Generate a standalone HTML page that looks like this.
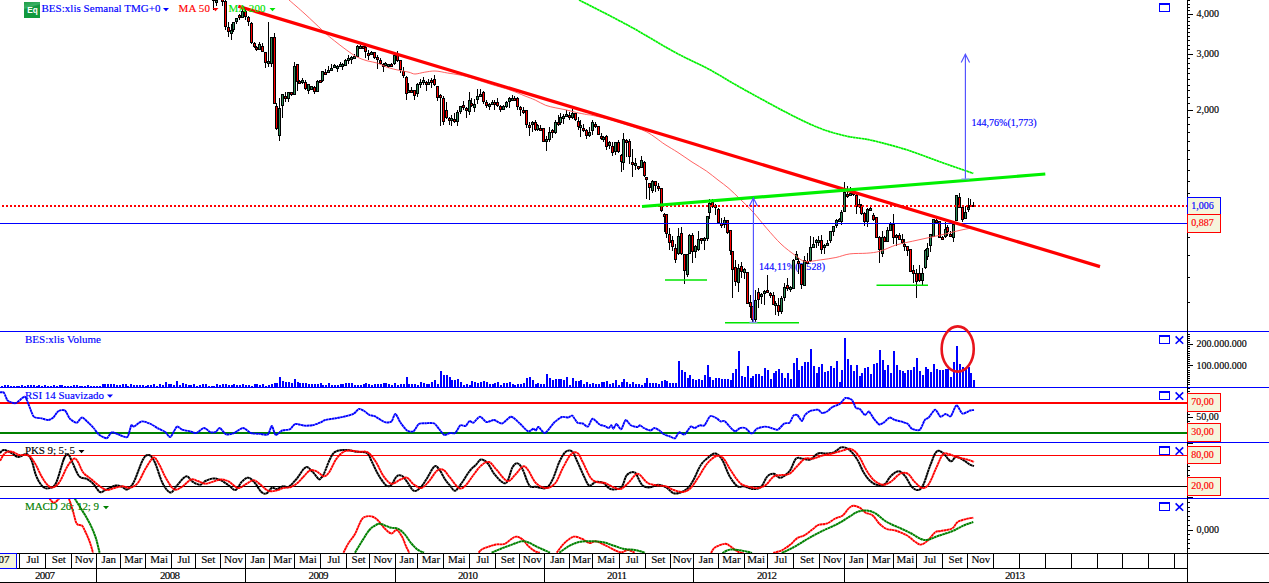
<!DOCTYPE html>
<html><head><meta charset="utf-8"><title>chart</title><style>html,body{margin:0;padding:0;background:#fff;overflow:hidden}svg{display:block}</style></head><body>
<svg width="1269" height="583" viewBox="0 0 1269 583" shape-rendering="auto">
<rect width="1269" height="583" fill="#fff"/>
<g id="main">
<text x="759" y="270" font-family="Liberation Serif, serif" font-size="10" fill="#0000ff" stroke="#0000ff" stroke-width="0.15" textLength="66">144,11%(0,528)</text>
<g shape-rendering="crispEdges">
<rect x="213" y="-2" width="1" height="12" fill="#000"/>
<rect x="212" y="-2" width="3" height="3" fill="#000"/>
<rect x="213" y="-1" width="1" height="1" fill="#2e8b57"/>
<rect x="216" y="-1" width="1" height="7" fill="#000"/>
<rect x="215" y="0" width="3" height="3" fill="#000"/>
<rect x="216" y="1" width="1" height="1" fill="#2e8b57"/>
<rect x="219" y="-7" width="1" height="6" fill="#000"/>
<rect x="218" y="-5" width="3" height="4" fill="#000"/>
<rect x="219" y="-4" width="1" height="2" fill="#ff0000"/>
<rect x="222" y="-2" width="1" height="8" fill="#000"/>
<rect x="221" y="-1" width="3" height="3" fill="#000"/>
<rect x="222" y="0" width="1" height="1" fill="#ff0000"/>
<rect x="225" y="0" width="1" height="30" fill="#000"/>
<rect x="224" y="1" width="3" height="26" fill="#000"/>
<rect x="225" y="2" width="1" height="24" fill="#ff0000"/>
<rect x="228" y="22" width="1" height="15" fill="#000"/>
<rect x="227" y="27" width="3" height="5" fill="#000"/>
<rect x="228" y="28" width="1" height="3" fill="#ff0000"/>
<rect x="231" y="24" width="1" height="16" fill="#000"/>
<rect x="230" y="30" width="3" height="4" fill="#000"/>
<rect x="231" y="31" width="1" height="2" fill="#2e8b57"/>
<rect x="233" y="22" width="1" height="10" fill="#000"/>
<rect x="232" y="22" width="3" height="8" fill="#000"/>
<rect x="233" y="23" width="1" height="6" fill="#2e8b57"/>
<rect x="236" y="18" width="1" height="6" fill="#000"/>
<rect x="235" y="18" width="3" height="4" fill="#000"/>
<rect x="236" y="19" width="1" height="2" fill="#2e8b57"/>
<rect x="239" y="14" width="1" height="6" fill="#000"/>
<rect x="238" y="15" width="3" height="3" fill="#000"/>
<rect x="239" y="16" width="1" height="1" fill="#ff0000"/>
<rect x="242" y="9" width="1" height="9" fill="#000"/>
<rect x="241" y="11" width="3" height="7" fill="#000"/>
<rect x="242" y="12" width="1" height="5" fill="#2e8b57"/>
<rect x="245" y="9" width="1" height="11" fill="#000"/>
<rect x="244" y="11" width="3" height="6" fill="#000"/>
<rect x="245" y="12" width="1" height="4" fill="#ff0000"/>
<rect x="248" y="16" width="1" height="10" fill="#000"/>
<rect x="247" y="17" width="3" height="5" fill="#000"/>
<rect x="248" y="18" width="1" height="3" fill="#ff0000"/>
<rect x="251" y="22" width="1" height="22" fill="#000"/>
<rect x="250" y="23" width="3" height="20" fill="#000"/>
<rect x="251" y="24" width="1" height="18" fill="#ff0000"/>
<rect x="254" y="42" width="1" height="6" fill="#000"/>
<rect x="253" y="43" width="3" height="4" fill="#000"/>
<rect x="254" y="44" width="1" height="2" fill="#ff0000"/>
<rect x="256" y="46" width="1" height="5" fill="#000"/>
<rect x="255" y="47" width="3" height="3" fill="#000"/>
<rect x="256" y="48" width="1" height="1" fill="#ff0000"/>
<rect x="259" y="42" width="1" height="8" fill="#000"/>
<rect x="258" y="44" width="3" height="6" fill="#000"/>
<rect x="259" y="45" width="1" height="4" fill="#2e8b57"/>
<rect x="262" y="43" width="1" height="9" fill="#000"/>
<rect x="261" y="46" width="3" height="6" fill="#000"/>
<rect x="262" y="47" width="1" height="4" fill="#ff0000"/>
<rect x="265" y="52" width="1" height="16" fill="#000"/>
<rect x="264" y="52" width="3" height="11" fill="#000"/>
<rect x="265" y="53" width="1" height="9" fill="#ff0000"/>
<rect x="268" y="22" width="1" height="45" fill="#000"/>
<rect x="267" y="61" width="3" height="3" fill="#000"/>
<rect x="268" y="62" width="1" height="1" fill="#2e8b57"/>
<rect x="271" y="37" width="1" height="30" fill="#000"/>
<rect x="270" y="37" width="3" height="27" fill="#000"/>
<rect x="271" y="38" width="1" height="25" fill="#2e8b57"/>
<rect x="274" y="33" width="1" height="71" fill="#000"/>
<rect x="273" y="37" width="3" height="67" fill="#000"/>
<rect x="274" y="38" width="1" height="65" fill="#ff0000"/>
<rect x="276" y="103" width="1" height="27" fill="#000"/>
<rect x="275" y="106" width="3" height="23" fill="#000"/>
<rect x="276" y="107" width="1" height="21" fill="#ff0000"/>
<rect x="279" y="98" width="1" height="43" fill="#000"/>
<rect x="278" y="108" width="3" height="28" fill="#000"/>
<rect x="279" y="109" width="1" height="26" fill="#2e8b57"/>
<rect x="282" y="94" width="1" height="24" fill="#000"/>
<rect x="281" y="94" width="3" height="12" fill="#000"/>
<rect x="282" y="95" width="1" height="10" fill="#2e8b57"/>
<rect x="285" y="92" width="1" height="10" fill="#000"/>
<rect x="284" y="96" width="3" height="3" fill="#000"/>
<rect x="285" y="97" width="1" height="1" fill="#ff0000"/>
<rect x="288" y="92" width="1" height="10" fill="#000"/>
<rect x="287" y="92" width="3" height="7" fill="#000"/>
<rect x="288" y="93" width="1" height="5" fill="#2e8b57"/>
<rect x="291" y="92" width="1" height="4" fill="#000"/>
<rect x="290" y="92" width="3" height="3" fill="#000"/>
<rect x="291" y="93" width="1" height="1" fill="#ff0000"/>
<rect x="294" y="62" width="1" height="33" fill="#000"/>
<rect x="293" y="66" width="3" height="29" fill="#000"/>
<rect x="294" y="67" width="1" height="27" fill="#2e8b57"/>
<rect x="297" y="64" width="1" height="27" fill="#000"/>
<rect x="296" y="64" width="3" height="18" fill="#000"/>
<rect x="297" y="65" width="1" height="16" fill="#ff0000"/>
<rect x="299" y="80" width="1" height="4" fill="#000"/>
<rect x="298" y="81" width="3" height="3" fill="#000"/>
<rect x="299" y="82" width="1" height="1" fill="#ff0000"/>
<rect x="302" y="78" width="1" height="6" fill="#000"/>
<rect x="301" y="80" width="3" height="3" fill="#000"/>
<rect x="302" y="81" width="1" height="1" fill="#2e8b57"/>
<rect x="305" y="80" width="1" height="10" fill="#000"/>
<rect x="304" y="82" width="3" height="7" fill="#000"/>
<rect x="305" y="83" width="1" height="5" fill="#ff0000"/>
<rect x="308" y="84" width="1" height="10" fill="#000"/>
<rect x="307" y="84" width="3" height="7" fill="#000"/>
<rect x="308" y="85" width="1" height="5" fill="#2e8b57"/>
<rect x="311" y="86" width="1" height="4" fill="#000"/>
<rect x="310" y="86" width="3" height="4" fill="#000"/>
<rect x="311" y="87" width="1" height="2" fill="#2e8b57"/>
<rect x="314" y="86" width="1" height="8" fill="#000"/>
<rect x="313" y="87" width="3" height="5" fill="#000"/>
<rect x="314" y="88" width="1" height="3" fill="#ff0000"/>
<rect x="317" y="80" width="1" height="12" fill="#000"/>
<rect x="316" y="81" width="3" height="11" fill="#000"/>
<rect x="317" y="82" width="1" height="9" fill="#2e8b57"/>
<rect x="320" y="80" width="1" height="3" fill="#000"/>
<rect x="319" y="80" width="3" height="3" fill="#000"/>
<rect x="320" y="81" width="1" height="1" fill="#ff0000"/>
<rect x="322" y="71" width="1" height="11" fill="#000"/>
<rect x="321" y="71" width="3" height="10" fill="#000"/>
<rect x="322" y="72" width="1" height="8" fill="#2e8b57"/>
<rect x="325" y="69" width="1" height="5" fill="#000"/>
<rect x="324" y="72" width="3" height="3" fill="#000"/>
<rect x="325" y="73" width="1" height="1" fill="#ff0000"/>
<rect x="328" y="66" width="1" height="7" fill="#000"/>
<rect x="327" y="70" width="3" height="3" fill="#000"/>
<rect x="328" y="71" width="1" height="1" fill="#2e8b57"/>
<rect x="331" y="64" width="1" height="7" fill="#000"/>
<rect x="330" y="68" width="3" height="3" fill="#000"/>
<rect x="331" y="69" width="1" height="1" fill="#2e8b57"/>
<rect x="334" y="64" width="1" height="4" fill="#000"/>
<rect x="333" y="65" width="3" height="3" fill="#000"/>
<rect x="334" y="66" width="1" height="1" fill="#2e8b57"/>
<rect x="337" y="65" width="1" height="7" fill="#000"/>
<rect x="336" y="66" width="3" height="3" fill="#000"/>
<rect x="337" y="67" width="1" height="1" fill="#2e8b57"/>
<rect x="340" y="62" width="1" height="5" fill="#000"/>
<rect x="339" y="64" width="3" height="3" fill="#000"/>
<rect x="340" y="65" width="1" height="1" fill="#2e8b57"/>
<rect x="342" y="63" width="1" height="7" fill="#000"/>
<rect x="341" y="64" width="3" height="3" fill="#000"/>
<rect x="342" y="65" width="1" height="1" fill="#2e8b57"/>
<rect x="345" y="59" width="1" height="7" fill="#000"/>
<rect x="344" y="60" width="3" height="6" fill="#000"/>
<rect x="345" y="61" width="1" height="4" fill="#2e8b57"/>
<rect x="348" y="55" width="1" height="9" fill="#000"/>
<rect x="347" y="58" width="3" height="3" fill="#000"/>
<rect x="348" y="59" width="1" height="1" fill="#2e8b57"/>
<rect x="351" y="56" width="1" height="8" fill="#000"/>
<rect x="350" y="57" width="3" height="3" fill="#000"/>
<rect x="351" y="58" width="1" height="1" fill="#2e8b57"/>
<rect x="354" y="54" width="1" height="5" fill="#000"/>
<rect x="353" y="56" width="3" height="3" fill="#000"/>
<rect x="354" y="57" width="1" height="1" fill="#2e8b57"/>
<rect x="357" y="45" width="1" height="12" fill="#000"/>
<rect x="356" y="46" width="3" height="11" fill="#000"/>
<rect x="357" y="47" width="1" height="9" fill="#2e8b57"/>
<rect x="360" y="45" width="1" height="3" fill="#000"/>
<rect x="359" y="46" width="3" height="3" fill="#000"/>
<rect x="360" y="47" width="1" height="1" fill="#2e8b57"/>
<rect x="363" y="46" width="1" height="2" fill="#000"/>
<rect x="362" y="46" width="3" height="3" fill="#000"/>
<rect x="363" y="47" width="1" height="1" fill="#ff0000"/>
<rect x="365" y="46" width="1" height="12" fill="#000"/>
<rect x="364" y="47" width="3" height="5" fill="#000"/>
<rect x="365" y="48" width="1" height="3" fill="#ff0000"/>
<rect x="368" y="50" width="1" height="10" fill="#000"/>
<rect x="367" y="53" width="3" height="3" fill="#000"/>
<rect x="368" y="54" width="1" height="1" fill="#ff0000"/>
<rect x="371" y="51" width="1" height="4" fill="#000"/>
<rect x="370" y="52" width="3" height="3" fill="#000"/>
<rect x="371" y="53" width="1" height="1" fill="#2e8b57"/>
<rect x="374" y="52" width="1" height="7" fill="#000"/>
<rect x="373" y="52" width="3" height="6" fill="#000"/>
<rect x="374" y="53" width="1" height="4" fill="#ff0000"/>
<rect x="377" y="55" width="1" height="14" fill="#000"/>
<rect x="376" y="57" width="3" height="3" fill="#000"/>
<rect x="377" y="58" width="1" height="1" fill="#ff0000"/>
<rect x="380" y="58" width="1" height="6" fill="#000"/>
<rect x="379" y="60" width="3" height="4" fill="#000"/>
<rect x="380" y="61" width="1" height="2" fill="#ff0000"/>
<rect x="383" y="63" width="1" height="9" fill="#000"/>
<rect x="382" y="64" width="3" height="3" fill="#000"/>
<rect x="383" y="65" width="1" height="1" fill="#ff0000"/>
<rect x="385" y="62" width="1" height="4" fill="#000"/>
<rect x="384" y="63" width="3" height="3" fill="#000"/>
<rect x="385" y="64" width="1" height="1" fill="#2e8b57"/>
<rect x="388" y="64" width="1" height="4" fill="#000"/>
<rect x="387" y="64" width="3" height="3" fill="#000"/>
<rect x="388" y="65" width="1" height="1" fill="#2e8b57"/>
<rect x="391" y="63" width="1" height="4" fill="#000"/>
<rect x="390" y="64" width="3" height="3" fill="#000"/>
<rect x="391" y="65" width="1" height="1" fill="#ff0000"/>
<rect x="394" y="54" width="1" height="11" fill="#000"/>
<rect x="393" y="55" width="3" height="9" fill="#000"/>
<rect x="394" y="56" width="1" height="7" fill="#2e8b57"/>
<rect x="397" y="51" width="1" height="11" fill="#000"/>
<rect x="396" y="55" width="3" height="6" fill="#000"/>
<rect x="397" y="56" width="1" height="4" fill="#ff0000"/>
<rect x="400" y="60" width="1" height="13" fill="#000"/>
<rect x="399" y="60" width="3" height="10" fill="#000"/>
<rect x="400" y="61" width="1" height="8" fill="#ff0000"/>
<rect x="403" y="67" width="1" height="11" fill="#000"/>
<rect x="402" y="71" width="3" height="5" fill="#000"/>
<rect x="403" y="72" width="1" height="3" fill="#ff0000"/>
<rect x="406" y="76" width="1" height="24" fill="#000"/>
<rect x="405" y="77" width="3" height="17" fill="#000"/>
<rect x="406" y="78" width="1" height="15" fill="#ff0000"/>
<rect x="408" y="83" width="1" height="10" fill="#000"/>
<rect x="407" y="90" width="3" height="3" fill="#000"/>
<rect x="408" y="91" width="1" height="1" fill="#2e8b57"/>
<rect x="411" y="87" width="1" height="5" fill="#000"/>
<rect x="410" y="90" width="3" height="3" fill="#000"/>
<rect x="411" y="91" width="1" height="1" fill="#ff0000"/>
<rect x="414" y="90" width="1" height="10" fill="#000"/>
<rect x="413" y="90" width="3" height="6" fill="#000"/>
<rect x="414" y="91" width="1" height="4" fill="#ff0000"/>
<rect x="417" y="83" width="1" height="14" fill="#000"/>
<rect x="416" y="84" width="3" height="10" fill="#000"/>
<rect x="417" y="85" width="1" height="8" fill="#2e8b57"/>
<rect x="420" y="79" width="1" height="9" fill="#000"/>
<rect x="419" y="82" width="3" height="3" fill="#000"/>
<rect x="420" y="83" width="1" height="1" fill="#2e8b57"/>
<rect x="423" y="77" width="1" height="8" fill="#000"/>
<rect x="422" y="80" width="3" height="3" fill="#000"/>
<rect x="423" y="81" width="1" height="1" fill="#2e8b57"/>
<rect x="426" y="81" width="1" height="10" fill="#000"/>
<rect x="425" y="82" width="3" height="3" fill="#000"/>
<rect x="426" y="83" width="1" height="1" fill="#ff0000"/>
<rect x="428" y="79" width="1" height="5" fill="#000"/>
<rect x="427" y="82" width="3" height="3" fill="#000"/>
<rect x="428" y="83" width="1" height="1" fill="#2e8b57"/>
<rect x="431" y="78" width="1" height="10" fill="#000"/>
<rect x="430" y="80" width="3" height="3" fill="#000"/>
<rect x="431" y="81" width="1" height="1" fill="#ff0000"/>
<rect x="434" y="75" width="1" height="11" fill="#000"/>
<rect x="433" y="79" width="3" height="6" fill="#000"/>
<rect x="434" y="80" width="1" height="4" fill="#ff0000"/>
<rect x="437" y="86" width="1" height="15" fill="#000"/>
<rect x="436" y="86" width="3" height="12" fill="#000"/>
<rect x="437" y="87" width="1" height="10" fill="#ff0000"/>
<rect x="440" y="94" width="1" height="32" fill="#000"/>
<rect x="439" y="95" width="3" height="3" fill="#000"/>
<rect x="440" y="96" width="1" height="1" fill="#ff0000"/>
<rect x="443" y="96" width="1" height="29" fill="#000"/>
<rect x="442" y="98" width="3" height="24" fill="#000"/>
<rect x="443" y="99" width="1" height="22" fill="#ff0000"/>
<rect x="446" y="102" width="1" height="17" fill="#000"/>
<rect x="445" y="110" width="3" height="8" fill="#000"/>
<rect x="446" y="111" width="1" height="6" fill="#ff0000"/>
<rect x="449" y="117" width="1" height="8" fill="#000"/>
<rect x="448" y="118" width="3" height="3" fill="#000"/>
<rect x="449" y="119" width="1" height="1" fill="#ff0000"/>
<rect x="451" y="115" width="1" height="11" fill="#000"/>
<rect x="450" y="118" width="3" height="3" fill="#000"/>
<rect x="451" y="119" width="1" height="1" fill="#2e8b57"/>
<rect x="454" y="113" width="1" height="10" fill="#000"/>
<rect x="453" y="119" width="3" height="3" fill="#000"/>
<rect x="454" y="120" width="1" height="1" fill="#ff0000"/>
<rect x="457" y="110" width="1" height="16" fill="#000"/>
<rect x="456" y="112" width="3" height="10" fill="#000"/>
<rect x="457" y="113" width="1" height="8" fill="#2e8b57"/>
<rect x="460" y="106" width="1" height="8" fill="#000"/>
<rect x="459" y="106" width="3" height="6" fill="#000"/>
<rect x="460" y="107" width="1" height="4" fill="#2e8b57"/>
<rect x="463" y="101" width="1" height="9" fill="#000"/>
<rect x="462" y="105" width="3" height="3" fill="#000"/>
<rect x="463" y="106" width="1" height="1" fill="#ff0000"/>
<rect x="466" y="107" width="1" height="11" fill="#000"/>
<rect x="465" y="108" width="3" height="3" fill="#000"/>
<rect x="466" y="109" width="1" height="1" fill="#ff0000"/>
<rect x="469" y="92" width="1" height="23" fill="#000"/>
<rect x="468" y="100" width="3" height="12" fill="#000"/>
<rect x="469" y="101" width="1" height="10" fill="#2e8b57"/>
<rect x="471" y="98" width="1" height="9" fill="#000"/>
<rect x="470" y="103" width="3" height="3" fill="#000"/>
<rect x="471" y="104" width="1" height="1" fill="#ff0000"/>
<rect x="474" y="99" width="1" height="13" fill="#000"/>
<rect x="473" y="104" width="3" height="4" fill="#000"/>
<rect x="474" y="105" width="1" height="2" fill="#2e8b57"/>
<rect x="477" y="89" width="1" height="15" fill="#000"/>
<rect x="476" y="96" width="3" height="4" fill="#000"/>
<rect x="477" y="97" width="1" height="2" fill="#2e8b57"/>
<rect x="480" y="89" width="1" height="7" fill="#000"/>
<rect x="479" y="94" width="3" height="3" fill="#000"/>
<rect x="480" y="95" width="1" height="1" fill="#2e8b57"/>
<rect x="483" y="91" width="1" height="13" fill="#000"/>
<rect x="482" y="92" width="3" height="10" fill="#000"/>
<rect x="483" y="93" width="1" height="8" fill="#ff0000"/>
<rect x="486" y="100" width="1" height="8" fill="#000"/>
<rect x="485" y="102" width="3" height="4" fill="#000"/>
<rect x="486" y="103" width="1" height="2" fill="#ff0000"/>
<rect x="489" y="103" width="1" height="7" fill="#000"/>
<rect x="488" y="104" width="3" height="3" fill="#000"/>
<rect x="489" y="105" width="1" height="1" fill="#2e8b57"/>
<rect x="492" y="100" width="1" height="4" fill="#000"/>
<rect x="491" y="102" width="3" height="3" fill="#000"/>
<rect x="492" y="103" width="1" height="1" fill="#2e8b57"/>
<rect x="494" y="100" width="1" height="10" fill="#000"/>
<rect x="493" y="102" width="3" height="3" fill="#000"/>
<rect x="494" y="103" width="1" height="1" fill="#ff0000"/>
<rect x="497" y="98" width="1" height="9" fill="#000"/>
<rect x="496" y="102" width="3" height="4" fill="#000"/>
<rect x="497" y="103" width="1" height="2" fill="#ff0000"/>
<rect x="500" y="105" width="1" height="7" fill="#000"/>
<rect x="499" y="106" width="3" height="4" fill="#000"/>
<rect x="500" y="107" width="1" height="2" fill="#ff0000"/>
<rect x="503" y="105" width="1" height="5" fill="#000"/>
<rect x="502" y="106" width="3" height="4" fill="#000"/>
<rect x="503" y="107" width="1" height="2" fill="#2e8b57"/>
<rect x="506" y="101" width="1" height="7" fill="#000"/>
<rect x="505" y="102" width="3" height="5" fill="#000"/>
<rect x="506" y="103" width="1" height="3" fill="#2e8b57"/>
<rect x="509" y="97" width="1" height="11" fill="#000"/>
<rect x="508" y="98" width="3" height="4" fill="#000"/>
<rect x="509" y="99" width="1" height="2" fill="#2e8b57"/>
<rect x="512" y="95" width="1" height="6" fill="#000"/>
<rect x="511" y="98" width="3" height="3" fill="#000"/>
<rect x="512" y="99" width="1" height="1" fill="#2e8b57"/>
<rect x="514" y="96" width="1" height="4" fill="#000"/>
<rect x="513" y="98" width="3" height="3" fill="#000"/>
<rect x="514" y="99" width="1" height="1" fill="#ff0000"/>
<rect x="517" y="97" width="1" height="13" fill="#000"/>
<rect x="516" y="98" width="3" height="9" fill="#000"/>
<rect x="517" y="99" width="1" height="7" fill="#ff0000"/>
<rect x="520" y="106" width="1" height="10" fill="#000"/>
<rect x="519" y="107" width="3" height="3" fill="#000"/>
<rect x="520" y="108" width="1" height="1" fill="#ff0000"/>
<rect x="523" y="107" width="1" height="7" fill="#000"/>
<rect x="522" y="110" width="3" height="3" fill="#000"/>
<rect x="523" y="111" width="1" height="1" fill="#ff0000"/>
<rect x="526" y="110" width="1" height="18" fill="#000"/>
<rect x="525" y="110" width="3" height="15" fill="#000"/>
<rect x="526" y="111" width="1" height="13" fill="#ff0000"/>
<rect x="529" y="122" width="1" height="14" fill="#000"/>
<rect x="528" y="125" width="3" height="3" fill="#000"/>
<rect x="529" y="126" width="1" height="1" fill="#ff0000"/>
<rect x="532" y="121" width="1" height="11" fill="#000"/>
<rect x="531" y="122" width="3" height="3" fill="#000"/>
<rect x="532" y="123" width="1" height="1" fill="#2e8b57"/>
<rect x="535" y="120" width="1" height="11" fill="#000"/>
<rect x="534" y="122" width="3" height="8" fill="#000"/>
<rect x="535" y="123" width="1" height="6" fill="#ff0000"/>
<rect x="537" y="124" width="1" height="7" fill="#000"/>
<rect x="536" y="125" width="3" height="5" fill="#000"/>
<rect x="537" y="126" width="1" height="3" fill="#2e8b57"/>
<rect x="540" y="125" width="1" height="6" fill="#000"/>
<rect x="539" y="128" width="3" height="3" fill="#000"/>
<rect x="540" y="129" width="1" height="1" fill="#ff0000"/>
<rect x="543" y="128" width="1" height="14" fill="#000"/>
<rect x="542" y="128" width="3" height="14" fill="#000"/>
<rect x="543" y="129" width="1" height="12" fill="#ff0000"/>
<rect x="546" y="136" width="1" height="15" fill="#000"/>
<rect x="545" y="139" width="3" height="3" fill="#000"/>
<rect x="546" y="140" width="1" height="1" fill="#2e8b57"/>
<rect x="549" y="127" width="1" height="15" fill="#000"/>
<rect x="548" y="132" width="3" height="8" fill="#000"/>
<rect x="549" y="133" width="1" height="6" fill="#2e8b57"/>
<rect x="552" y="129" width="1" height="9" fill="#000"/>
<rect x="551" y="130" width="3" height="3" fill="#000"/>
<rect x="552" y="131" width="1" height="1" fill="#ff0000"/>
<rect x="555" y="120" width="1" height="14" fill="#000"/>
<rect x="554" y="122" width="3" height="11" fill="#000"/>
<rect x="555" y="123" width="1" height="9" fill="#2e8b57"/>
<rect x="558" y="115" width="1" height="11" fill="#000"/>
<rect x="557" y="122" width="3" height="3" fill="#000"/>
<rect x="558" y="123" width="1" height="1" fill="#ff0000"/>
<rect x="560" y="113" width="1" height="12" fill="#000"/>
<rect x="559" y="117" width="3" height="6" fill="#000"/>
<rect x="560" y="118" width="1" height="4" fill="#2e8b57"/>
<rect x="563" y="114" width="1" height="10" fill="#000"/>
<rect x="562" y="116" width="3" height="3" fill="#000"/>
<rect x="563" y="117" width="1" height="1" fill="#2e8b57"/>
<rect x="566" y="110" width="1" height="6" fill="#000"/>
<rect x="565" y="114" width="3" height="3" fill="#000"/>
<rect x="566" y="115" width="1" height="1" fill="#2e8b57"/>
<rect x="569" y="112" width="1" height="8" fill="#000"/>
<rect x="568" y="115" width="3" height="3" fill="#000"/>
<rect x="569" y="116" width="1" height="1" fill="#ff0000"/>
<rect x="572" y="109" width="1" height="10" fill="#000"/>
<rect x="571" y="113" width="3" height="5" fill="#000"/>
<rect x="572" y="114" width="1" height="3" fill="#2e8b57"/>
<rect x="575" y="113" width="1" height="8" fill="#000"/>
<rect x="574" y="113" width="3" height="7" fill="#000"/>
<rect x="575" y="114" width="1" height="5" fill="#ff0000"/>
<rect x="578" y="117" width="1" height="13" fill="#000"/>
<rect x="577" y="121" width="3" height="6" fill="#000"/>
<rect x="578" y="122" width="1" height="4" fill="#ff0000"/>
<rect x="580" y="120" width="1" height="17" fill="#000"/>
<rect x="579" y="125" width="3" height="3" fill="#000"/>
<rect x="580" y="126" width="1" height="1" fill="#2e8b57"/>
<rect x="583" y="124" width="1" height="8" fill="#000"/>
<rect x="582" y="128" width="3" height="3" fill="#000"/>
<rect x="583" y="129" width="1" height="1" fill="#ff0000"/>
<rect x="586" y="129" width="1" height="10" fill="#000"/>
<rect x="585" y="130" width="3" height="6" fill="#000"/>
<rect x="586" y="131" width="1" height="4" fill="#ff0000"/>
<rect x="589" y="127" width="1" height="10" fill="#000"/>
<rect x="588" y="132" width="3" height="4" fill="#000"/>
<rect x="589" y="133" width="1" height="2" fill="#2e8b57"/>
<rect x="592" y="120" width="1" height="15" fill="#000"/>
<rect x="591" y="122" width="3" height="9" fill="#000"/>
<rect x="592" y="123" width="1" height="7" fill="#2e8b57"/>
<rect x="595" y="122" width="1" height="6" fill="#000"/>
<rect x="594" y="124" width="3" height="3" fill="#000"/>
<rect x="595" y="125" width="1" height="1" fill="#ff0000"/>
<rect x="598" y="126" width="1" height="9" fill="#000"/>
<rect x="597" y="126" width="3" height="9" fill="#000"/>
<rect x="598" y="127" width="1" height="7" fill="#ff0000"/>
<rect x="601" y="133" width="1" height="7" fill="#000"/>
<rect x="600" y="136" width="3" height="3" fill="#000"/>
<rect x="601" y="137" width="1" height="1" fill="#ff0000"/>
<rect x="603" y="136" width="1" height="6" fill="#000"/>
<rect x="602" y="137" width="3" height="3" fill="#000"/>
<rect x="603" y="138" width="1" height="1" fill="#2e8b57"/>
<rect x="606" y="135" width="1" height="15" fill="#000"/>
<rect x="605" y="136" width="3" height="11" fill="#000"/>
<rect x="606" y="137" width="1" height="9" fill="#ff0000"/>
<rect x="609" y="141" width="1" height="8" fill="#000"/>
<rect x="608" y="142" width="3" height="4" fill="#000"/>
<rect x="609" y="143" width="1" height="2" fill="#2e8b57"/>
<rect x="612" y="142" width="1" height="14" fill="#000"/>
<rect x="611" y="146" width="3" height="7" fill="#000"/>
<rect x="612" y="147" width="1" height="5" fill="#ff0000"/>
<rect x="615" y="142" width="1" height="13" fill="#000"/>
<rect x="614" y="142" width="3" height="10" fill="#000"/>
<rect x="615" y="143" width="1" height="8" fill="#2e8b57"/>
<rect x="618" y="140" width="1" height="13" fill="#000"/>
<rect x="617" y="142" width="3" height="10" fill="#000"/>
<rect x="618" y="143" width="1" height="8" fill="#ff0000"/>
<rect x="621" y="154" width="1" height="18" fill="#000"/>
<rect x="620" y="155" width="3" height="7" fill="#000"/>
<rect x="621" y="156" width="1" height="5" fill="#ff0000"/>
<rect x="623" y="133" width="1" height="37" fill="#000"/>
<rect x="622" y="139" width="3" height="24" fill="#000"/>
<rect x="623" y="140" width="1" height="22" fill="#2e8b57"/>
<rect x="626" y="139" width="1" height="18" fill="#000"/>
<rect x="625" y="140" width="3" height="3" fill="#000"/>
<rect x="626" y="141" width="1" height="1" fill="#ff0000"/>
<rect x="629" y="139" width="1" height="25" fill="#000"/>
<rect x="628" y="141" width="3" height="16" fill="#000"/>
<rect x="629" y="142" width="1" height="14" fill="#ff0000"/>
<rect x="632" y="149" width="1" height="28" fill="#000"/>
<rect x="631" y="162" width="3" height="3" fill="#000"/>
<rect x="632" y="163" width="1" height="1" fill="#ff0000"/>
<rect x="635" y="158" width="1" height="12" fill="#000"/>
<rect x="634" y="163" width="3" height="3" fill="#000"/>
<rect x="635" y="164" width="1" height="1" fill="#2e8b57"/>
<rect x="638" y="166" width="1" height="4" fill="#000"/>
<rect x="637" y="166" width="3" height="3" fill="#000"/>
<rect x="638" y="167" width="1" height="1" fill="#ff0000"/>
<rect x="641" y="156" width="1" height="12" fill="#000"/>
<rect x="640" y="160" width="3" height="8" fill="#000"/>
<rect x="641" y="161" width="1" height="6" fill="#2e8b57"/>
<rect x="644" y="161" width="1" height="16" fill="#000"/>
<rect x="643" y="162" width="3" height="14" fill="#000"/>
<rect x="644" y="163" width="1" height="12" fill="#ff0000"/>
<rect x="646" y="177" width="1" height="22" fill="#000"/>
<rect x="645" y="177" width="3" height="3" fill="#000"/>
<rect x="646" y="178" width="1" height="1" fill="#ff0000"/>
<rect x="649" y="183" width="1" height="17" fill="#000"/>
<rect x="648" y="183" width="3" height="5" fill="#000"/>
<rect x="649" y="184" width="1" height="3" fill="#ff0000"/>
<rect x="652" y="180" width="1" height="13" fill="#000"/>
<rect x="651" y="181" width="3" height="10" fill="#000"/>
<rect x="652" y="182" width="1" height="8" fill="#2e8b57"/>
<rect x="655" y="181" width="1" height="11" fill="#000"/>
<rect x="654" y="181" width="3" height="5" fill="#000"/>
<rect x="655" y="182" width="1" height="3" fill="#ff0000"/>
<rect x="658" y="183" width="1" height="8" fill="#000"/>
<rect x="657" y="186" width="3" height="3" fill="#000"/>
<rect x="658" y="187" width="1" height="1" fill="#ff0000"/>
<rect x="661" y="188" width="1" height="24" fill="#000"/>
<rect x="660" y="188" width="3" height="23" fill="#000"/>
<rect x="661" y="189" width="1" height="21" fill="#ff0000"/>
<rect x="664" y="213" width="1" height="19" fill="#000"/>
<rect x="663" y="214" width="3" height="3" fill="#000"/>
<rect x="664" y="215" width="1" height="1" fill="#ff0000"/>
<rect x="666" y="214" width="1" height="24" fill="#000"/>
<rect x="665" y="214" width="3" height="20" fill="#000"/>
<rect x="666" y="215" width="1" height="18" fill="#ff0000"/>
<rect x="669" y="228" width="1" height="22" fill="#000"/>
<rect x="668" y="234" width="3" height="9" fill="#000"/>
<rect x="669" y="235" width="1" height="7" fill="#ff0000"/>
<rect x="672" y="236" width="1" height="15" fill="#000"/>
<rect x="671" y="240" width="3" height="7" fill="#000"/>
<rect x="672" y="241" width="1" height="5" fill="#ff0000"/>
<rect x="675" y="244" width="1" height="19" fill="#000"/>
<rect x="674" y="248" width="3" height="12" fill="#000"/>
<rect x="675" y="249" width="1" height="10" fill="#ff0000"/>
<rect x="678" y="228" width="1" height="27" fill="#000"/>
<rect x="677" y="236" width="3" height="18" fill="#000"/>
<rect x="678" y="237" width="1" height="16" fill="#2e8b57"/>
<rect x="681" y="227" width="1" height="28" fill="#000"/>
<rect x="680" y="233" width="3" height="21" fill="#000"/>
<rect x="681" y="234" width="1" height="19" fill="#ff0000"/>
<rect x="684" y="254" width="1" height="30" fill="#000"/>
<rect x="683" y="254" width="3" height="17" fill="#000"/>
<rect x="684" y="255" width="1" height="15" fill="#ff0000"/>
<rect x="687" y="254" width="1" height="23" fill="#000"/>
<rect x="686" y="254" width="3" height="21" fill="#000"/>
<rect x="687" y="255" width="1" height="19" fill="#2e8b57"/>
<rect x="689" y="234" width="1" height="20" fill="#000"/>
<rect x="688" y="235" width="3" height="19" fill="#000"/>
<rect x="689" y="236" width="1" height="17" fill="#2e8b57"/>
<rect x="692" y="233" width="1" height="30" fill="#000"/>
<rect x="691" y="235" width="3" height="17" fill="#000"/>
<rect x="692" y="236" width="1" height="15" fill="#ff0000"/>
<rect x="695" y="245" width="1" height="13" fill="#000"/>
<rect x="694" y="246" width="3" height="6" fill="#000"/>
<rect x="695" y="247" width="1" height="4" fill="#2e8b57"/>
<rect x="698" y="231" width="1" height="20" fill="#000"/>
<rect x="697" y="239" width="3" height="11" fill="#000"/>
<rect x="698" y="240" width="1" height="9" fill="#2e8b57"/>
<rect x="701" y="238" width="1" height="6" fill="#000"/>
<rect x="700" y="238" width="3" height="3" fill="#000"/>
<rect x="701" y="239" width="1" height="1" fill="#ff0000"/>
<rect x="704" y="237" width="1" height="13" fill="#000"/>
<rect x="703" y="238" width="3" height="3" fill="#000"/>
<rect x="704" y="239" width="1" height="1" fill="#2e8b57"/>
<rect x="707" y="216" width="1" height="25" fill="#000"/>
<rect x="706" y="216" width="3" height="23" fill="#000"/>
<rect x="707" y="217" width="1" height="21" fill="#2e8b57"/>
<rect x="709" y="199" width="1" height="20" fill="#000"/>
<rect x="708" y="203" width="3" height="10" fill="#000"/>
<rect x="709" y="204" width="1" height="8" fill="#2e8b57"/>
<rect x="712" y="199" width="1" height="9" fill="#000"/>
<rect x="711" y="202" width="3" height="5" fill="#000"/>
<rect x="712" y="203" width="1" height="3" fill="#ff0000"/>
<rect x="715" y="204" width="1" height="11" fill="#000"/>
<rect x="714" y="205" width="3" height="3" fill="#000"/>
<rect x="715" y="206" width="1" height="1" fill="#ff0000"/>
<rect x="718" y="208" width="1" height="16" fill="#000"/>
<rect x="717" y="209" width="3" height="14" fill="#000"/>
<rect x="718" y="210" width="1" height="12" fill="#ff0000"/>
<rect x="721" y="218" width="1" height="10" fill="#000"/>
<rect x="720" y="223" width="3" height="3" fill="#000"/>
<rect x="721" y="224" width="1" height="1" fill="#ff0000"/>
<rect x="724" y="217" width="1" height="11" fill="#000"/>
<rect x="723" y="220" width="3" height="5" fill="#000"/>
<rect x="724" y="221" width="1" height="3" fill="#2e8b57"/>
<rect x="727" y="220" width="1" height="14" fill="#000"/>
<rect x="726" y="220" width="3" height="13" fill="#000"/>
<rect x="727" y="221" width="1" height="11" fill="#ff0000"/>
<rect x="730" y="230" width="1" height="25" fill="#000"/>
<rect x="729" y="230" width="3" height="21" fill="#000"/>
<rect x="730" y="231" width="1" height="19" fill="#ff0000"/>
<rect x="732" y="251" width="1" height="47" fill="#000"/>
<rect x="731" y="251" width="3" height="19" fill="#000"/>
<rect x="732" y="252" width="1" height="17" fill="#ff0000"/>
<rect x="735" y="260" width="1" height="26" fill="#000"/>
<rect x="734" y="267" width="3" height="15" fill="#000"/>
<rect x="735" y="268" width="1" height="13" fill="#ff0000"/>
<rect x="738" y="264" width="1" height="28" fill="#000"/>
<rect x="737" y="268" width="3" height="15" fill="#000"/>
<rect x="738" y="269" width="1" height="13" fill="#2e8b57"/>
<rect x="741" y="262" width="1" height="16" fill="#000"/>
<rect x="740" y="266" width="3" height="6" fill="#000"/>
<rect x="741" y="267" width="1" height="4" fill="#ff0000"/>
<rect x="744" y="268" width="1" height="11" fill="#000"/>
<rect x="743" y="269" width="3" height="4" fill="#000"/>
<rect x="744" y="270" width="1" height="2" fill="#2e8b57"/>
<rect x="747" y="272" width="1" height="32" fill="#000"/>
<rect x="746" y="272" width="3" height="32" fill="#000"/>
<rect x="747" y="273" width="1" height="30" fill="#ff0000"/>
<rect x="750" y="295" width="1" height="23" fill="#000"/>
<rect x="749" y="302" width="3" height="5" fill="#000"/>
<rect x="750" y="303" width="1" height="3" fill="#ff0000"/>
<rect x="752" y="306" width="1" height="16" fill="#000"/>
<rect x="751" y="306" width="3" height="14" fill="#000"/>
<rect x="752" y="307" width="1" height="12" fill="#ff0000"/>
<rect x="755" y="290" width="1" height="32" fill="#000"/>
<rect x="754" y="300" width="3" height="20" fill="#000"/>
<rect x="755" y="301" width="1" height="18" fill="#2e8b57"/>
<rect x="758" y="288" width="1" height="20" fill="#000"/>
<rect x="757" y="292" width="3" height="8" fill="#000"/>
<rect x="758" y="293" width="1" height="6" fill="#ff0000"/>
<rect x="761" y="293" width="1" height="11" fill="#000"/>
<rect x="760" y="294" width="3" height="3" fill="#000"/>
<rect x="761" y="295" width="1" height="1" fill="#2e8b57"/>
<rect x="764" y="290" width="1" height="15" fill="#000"/>
<rect x="763" y="291" width="3" height="3" fill="#000"/>
<rect x="764" y="292" width="1" height="1" fill="#2e8b57"/>
<rect x="767" y="275" width="1" height="18" fill="#000"/>
<rect x="766" y="290" width="3" height="3" fill="#000"/>
<rect x="767" y="291" width="1" height="1" fill="#ff0000"/>
<rect x="770" y="292" width="1" height="6" fill="#000"/>
<rect x="769" y="293" width="3" height="3" fill="#000"/>
<rect x="770" y="294" width="1" height="1" fill="#ff0000"/>
<rect x="773" y="292" width="1" height="13" fill="#000"/>
<rect x="772" y="295" width="3" height="10" fill="#000"/>
<rect x="773" y="296" width="1" height="8" fill="#ff0000"/>
<rect x="775" y="301" width="1" height="14" fill="#000"/>
<rect x="774" y="303" width="3" height="3" fill="#000"/>
<rect x="775" y="304" width="1" height="1" fill="#2e8b57"/>
<rect x="778" y="298" width="1" height="18" fill="#000"/>
<rect x="777" y="305" width="3" height="7" fill="#000"/>
<rect x="778" y="306" width="1" height="5" fill="#ff0000"/>
<rect x="781" y="296" width="1" height="18" fill="#000"/>
<rect x="780" y="298" width="3" height="14" fill="#000"/>
<rect x="781" y="299" width="1" height="12" fill="#2e8b57"/>
<rect x="784" y="283" width="1" height="18" fill="#000"/>
<rect x="783" y="287" width="3" height="11" fill="#000"/>
<rect x="784" y="288" width="1" height="9" fill="#2e8b57"/>
<rect x="787" y="278" width="1" height="13" fill="#000"/>
<rect x="786" y="285" width="3" height="4" fill="#000"/>
<rect x="787" y="286" width="1" height="2" fill="#ff0000"/>
<rect x="790" y="286" width="1" height="6" fill="#000"/>
<rect x="789" y="287" width="3" height="3" fill="#000"/>
<rect x="790" y="288" width="1" height="1" fill="#2e8b57"/>
<rect x="793" y="259" width="1" height="30" fill="#000"/>
<rect x="792" y="260" width="3" height="29" fill="#000"/>
<rect x="793" y="261" width="1" height="27" fill="#2e8b57"/>
<rect x="796" y="251" width="1" height="9" fill="#000"/>
<rect x="795" y="254" width="3" height="6" fill="#000"/>
<rect x="796" y="255" width="1" height="4" fill="#2e8b57"/>
<rect x="798" y="258" width="1" height="16" fill="#000"/>
<rect x="797" y="261" width="3" height="3" fill="#000"/>
<rect x="798" y="262" width="1" height="1" fill="#ff0000"/>
<rect x="801" y="264" width="1" height="25" fill="#000"/>
<rect x="800" y="264" width="3" height="21" fill="#000"/>
<rect x="801" y="265" width="1" height="19" fill="#ff0000"/>
<rect x="804" y="256" width="1" height="30" fill="#000"/>
<rect x="803" y="260" width="3" height="26" fill="#000"/>
<rect x="804" y="261" width="1" height="24" fill="#2e8b57"/>
<rect x="807" y="253" width="1" height="11" fill="#000"/>
<rect x="806" y="261" width="3" height="3" fill="#000"/>
<rect x="807" y="262" width="1" height="1" fill="#ff0000"/>
<rect x="810" y="236" width="1" height="26" fill="#000"/>
<rect x="809" y="247" width="3" height="14" fill="#000"/>
<rect x="810" y="248" width="1" height="12" fill="#2e8b57"/>
<rect x="813" y="237" width="1" height="11" fill="#000"/>
<rect x="812" y="244" width="3" height="4" fill="#000"/>
<rect x="813" y="245" width="1" height="2" fill="#2e8b57"/>
<rect x="816" y="239" width="1" height="9" fill="#000"/>
<rect x="815" y="240" width="3" height="3" fill="#000"/>
<rect x="816" y="241" width="1" height="1" fill="#2e8b57"/>
<rect x="818" y="236" width="1" height="10" fill="#000"/>
<rect x="817" y="240" width="3" height="3" fill="#000"/>
<rect x="818" y="241" width="1" height="1" fill="#2e8b57"/>
<rect x="821" y="235" width="1" height="19" fill="#000"/>
<rect x="820" y="240" width="3" height="10" fill="#000"/>
<rect x="821" y="241" width="1" height="8" fill="#ff0000"/>
<rect x="824" y="244" width="1" height="10" fill="#000"/>
<rect x="823" y="245" width="3" height="3" fill="#000"/>
<rect x="824" y="246" width="1" height="1" fill="#2e8b57"/>
<rect x="827" y="240" width="1" height="6" fill="#000"/>
<rect x="826" y="243" width="3" height="3" fill="#000"/>
<rect x="827" y="244" width="1" height="1" fill="#2e8b57"/>
<rect x="830" y="231" width="1" height="12" fill="#000"/>
<rect x="829" y="231" width="3" height="10" fill="#000"/>
<rect x="830" y="232" width="1" height="8" fill="#2e8b57"/>
<rect x="833" y="226" width="1" height="10" fill="#000"/>
<rect x="832" y="226" width="3" height="6" fill="#000"/>
<rect x="833" y="227" width="1" height="4" fill="#2e8b57"/>
<rect x="836" y="219" width="1" height="9" fill="#000"/>
<rect x="835" y="220" width="3" height="6" fill="#000"/>
<rect x="836" y="221" width="1" height="4" fill="#2e8b57"/>
<rect x="839" y="218" width="1" height="4" fill="#000"/>
<rect x="838" y="219" width="3" height="3" fill="#000"/>
<rect x="839" y="220" width="1" height="1" fill="#2e8b57"/>
<rect x="841" y="210" width="1" height="15" fill="#000"/>
<rect x="840" y="212" width="3" height="10" fill="#000"/>
<rect x="841" y="213" width="1" height="8" fill="#2e8b57"/>
<rect x="844" y="182" width="1" height="30" fill="#000"/>
<rect x="843" y="192" width="3" height="20" fill="#000"/>
<rect x="844" y="193" width="1" height="18" fill="#2e8b57"/>
<rect x="847" y="186" width="1" height="12" fill="#000"/>
<rect x="846" y="194" width="3" height="3" fill="#000"/>
<rect x="847" y="195" width="1" height="1" fill="#ff0000"/>
<rect x="850" y="187" width="1" height="9" fill="#000"/>
<rect x="849" y="193" width="3" height="3" fill="#000"/>
<rect x="850" y="194" width="1" height="1" fill="#2e8b57"/>
<rect x="853" y="191" width="1" height="5" fill="#000"/>
<rect x="852" y="192" width="3" height="3" fill="#000"/>
<rect x="853" y="193" width="1" height="1" fill="#ff0000"/>
<rect x="856" y="194" width="1" height="20" fill="#000"/>
<rect x="855" y="195" width="3" height="12" fill="#000"/>
<rect x="856" y="196" width="1" height="10" fill="#ff0000"/>
<rect x="859" y="199" width="1" height="9" fill="#000"/>
<rect x="858" y="204" width="3" height="3" fill="#000"/>
<rect x="859" y="205" width="1" height="1" fill="#2e8b57"/>
<rect x="861" y="204" width="1" height="11" fill="#000"/>
<rect x="860" y="205" width="3" height="9" fill="#000"/>
<rect x="861" y="206" width="1" height="7" fill="#ff0000"/>
<rect x="864" y="212" width="1" height="14" fill="#000"/>
<rect x="863" y="213" width="3" height="9" fill="#000"/>
<rect x="864" y="214" width="1" height="7" fill="#ff0000"/>
<rect x="867" y="208" width="1" height="19" fill="#000"/>
<rect x="866" y="209" width="3" height="13" fill="#000"/>
<rect x="867" y="210" width="1" height="11" fill="#2e8b57"/>
<rect x="870" y="207" width="1" height="4" fill="#000"/>
<rect x="869" y="208" width="3" height="3" fill="#000"/>
<rect x="870" y="209" width="1" height="1" fill="#2e8b57"/>
<rect x="873" y="213" width="1" height="8" fill="#000"/>
<rect x="872" y="215" width="3" height="5" fill="#000"/>
<rect x="873" y="216" width="1" height="3" fill="#ff0000"/>
<rect x="876" y="217" width="1" height="21" fill="#000"/>
<rect x="875" y="217" width="3" height="21" fill="#000"/>
<rect x="876" y="218" width="1" height="19" fill="#ff0000"/>
<rect x="879" y="236" width="1" height="27" fill="#000"/>
<rect x="878" y="237" width="3" height="13" fill="#000"/>
<rect x="879" y="238" width="1" height="11" fill="#ff0000"/>
<rect x="882" y="231" width="1" height="26" fill="#000"/>
<rect x="881" y="237" width="3" height="17" fill="#000"/>
<rect x="882" y="238" width="1" height="15" fill="#2e8b57"/>
<rect x="884" y="236" width="1" height="6" fill="#000"/>
<rect x="883" y="237" width="3" height="5" fill="#000"/>
<rect x="884" y="238" width="1" height="3" fill="#ff0000"/>
<rect x="887" y="227" width="1" height="15" fill="#000"/>
<rect x="886" y="230" width="3" height="12" fill="#000"/>
<rect x="887" y="231" width="1" height="10" fill="#2e8b57"/>
<rect x="890" y="222" width="1" height="9" fill="#000"/>
<rect x="889" y="224" width="3" height="7" fill="#000"/>
<rect x="890" y="225" width="1" height="5" fill="#2e8b57"/>
<rect x="893" y="214" width="1" height="30" fill="#000"/>
<rect x="892" y="224" width="3" height="14" fill="#000"/>
<rect x="893" y="225" width="1" height="12" fill="#ff0000"/>
<rect x="896" y="234" width="1" height="12" fill="#000"/>
<rect x="895" y="235" width="3" height="3" fill="#000"/>
<rect x="896" y="236" width="1" height="1" fill="#ff0000"/>
<rect x="899" y="233" width="1" height="7" fill="#000"/>
<rect x="898" y="235" width="3" height="5" fill="#000"/>
<rect x="899" y="236" width="1" height="3" fill="#ff0000"/>
<rect x="902" y="234" width="1" height="10" fill="#000"/>
<rect x="901" y="239" width="3" height="4" fill="#000"/>
<rect x="902" y="240" width="1" height="2" fill="#ff0000"/>
<rect x="904" y="239" width="1" height="12" fill="#000"/>
<rect x="903" y="244" width="3" height="3" fill="#000"/>
<rect x="904" y="245" width="1" height="1" fill="#ff0000"/>
<rect x="907" y="246" width="1" height="10" fill="#000"/>
<rect x="906" y="246" width="3" height="5" fill="#000"/>
<rect x="907" y="247" width="1" height="3" fill="#ff0000"/>
<rect x="910" y="249" width="1" height="23" fill="#000"/>
<rect x="909" y="249" width="3" height="23" fill="#000"/>
<rect x="910" y="250" width="1" height="21" fill="#ff0000"/>
<rect x="913" y="265" width="1" height="18" fill="#000"/>
<rect x="912" y="270" width="3" height="4" fill="#000"/>
<rect x="913" y="271" width="1" height="2" fill="#ff0000"/>
<rect x="916" y="269" width="1" height="29" fill="#000"/>
<rect x="915" y="273" width="3" height="9" fill="#000"/>
<rect x="916" y="274" width="1" height="7" fill="#ff0000"/>
<rect x="919" y="265" width="1" height="17" fill="#000"/>
<rect x="918" y="273" width="3" height="8" fill="#000"/>
<rect x="919" y="274" width="1" height="6" fill="#ff0000"/>
<rect x="922" y="268" width="1" height="18" fill="#000"/>
<rect x="921" y="273" width="3" height="8" fill="#000"/>
<rect x="922" y="274" width="1" height="6" fill="#2e8b57"/>
<rect x="925" y="249" width="1" height="20" fill="#000"/>
<rect x="924" y="250" width="3" height="18" fill="#000"/>
<rect x="925" y="251" width="1" height="16" fill="#2e8b57"/>
<rect x="927" y="243" width="1" height="17" fill="#000"/>
<rect x="926" y="248" width="3" height="9" fill="#000"/>
<rect x="927" y="249" width="1" height="7" fill="#2e8b57"/>
<rect x="930" y="234" width="1" height="18" fill="#000"/>
<rect x="929" y="234" width="3" height="12" fill="#000"/>
<rect x="930" y="235" width="1" height="10" fill="#2e8b57"/>
<rect x="933" y="219" width="1" height="18" fill="#000"/>
<rect x="932" y="219" width="3" height="18" fill="#000"/>
<rect x="933" y="220" width="1" height="16" fill="#2e8b57"/>
<rect x="936" y="219" width="1" height="3" fill="#000"/>
<rect x="935" y="220" width="3" height="3" fill="#000"/>
<rect x="936" y="221" width="1" height="1" fill="#ff0000"/>
<rect x="939" y="221" width="1" height="17" fill="#000"/>
<rect x="938" y="221" width="3" height="17" fill="#000"/>
<rect x="939" y="222" width="1" height="15" fill="#ff0000"/>
<rect x="942" y="236" width="1" height="4" fill="#000"/>
<rect x="941" y="237" width="3" height="3" fill="#000"/>
<rect x="942" y="238" width="1" height="1" fill="#ff0000"/>
<rect x="945" y="222" width="1" height="16" fill="#000"/>
<rect x="944" y="229" width="3" height="8" fill="#000"/>
<rect x="945" y="230" width="1" height="6" fill="#2e8b57"/>
<rect x="947" y="225" width="1" height="11" fill="#000"/>
<rect x="946" y="227" width="3" height="5" fill="#000"/>
<rect x="947" y="228" width="1" height="3" fill="#ff0000"/>
<rect x="950" y="231" width="1" height="6" fill="#000"/>
<rect x="949" y="234" width="3" height="3" fill="#000"/>
<rect x="950" y="235" width="1" height="1" fill="#ff0000"/>
<rect x="953" y="223" width="1" height="19" fill="#000"/>
<rect x="952" y="224" width="3" height="14" fill="#000"/>
<rect x="953" y="225" width="1" height="12" fill="#2e8b57"/>
<rect x="956" y="195" width="1" height="26" fill="#000"/>
<rect x="955" y="195" width="3" height="26" fill="#000"/>
<rect x="956" y="196" width="1" height="24" fill="#2e8b57"/>
<rect x="959" y="193" width="1" height="15" fill="#000"/>
<rect x="958" y="197" width="3" height="11" fill="#000"/>
<rect x="959" y="198" width="1" height="9" fill="#ff0000"/>
<rect x="962" y="207" width="1" height="15" fill="#000"/>
<rect x="961" y="207" width="3" height="13" fill="#000"/>
<rect x="962" y="208" width="1" height="11" fill="#ff0000"/>
<rect x="965" y="206" width="1" height="13" fill="#000"/>
<rect x="964" y="212" width="3" height="7" fill="#000"/>
<rect x="965" y="213" width="1" height="5" fill="#2e8b57"/>
<rect x="968" y="198" width="1" height="14" fill="#000"/>
<rect x="967" y="207" width="3" height="3" fill="#000"/>
<rect x="968" y="208" width="1" height="1" fill="#2e8b57"/>
<rect x="970" y="199" width="1" height="7" fill="#000"/>
<rect x="969" y="205" width="3" height="2" fill="#000"/>
<rect x="973" y="202" width="1" height="4" fill="#000"/>
<rect x="972" y="205" width="3" height="2" fill="#000"/>
</g>
<path d="M579.0 0.0C587.4 4.3 613.4 17.3 629.3 26.0C645.2 34.7 661.1 44.8 674.4 52.0C687.7 59.2 698.0 63.4 709.0 69.3C720.0 75.2 727.0 80.0 740.3 87.4C753.6 94.8 775.5 106.9 788.8 113.7C802.1 120.5 810.5 124.6 820.0 128.3C829.5 132.0 837.3 134.0 846.0 136.0C854.7 138.0 861.9 138.1 872.0 140.4C882.1 142.7 895.1 146.2 906.7 149.8C918.3 153.5 930.3 158.4 941.4 162.3C952.5 166.2 968.0 171.6 973.3 173.4" fill="none" stroke="#00f000" stroke-width="1.7" stroke-linejoin="round" stroke-dasharray="2.6 0.3"/>
<path d="M289.0 0.0C291.7 2.3 299.6 9.1 305.0 14.0C310.4 18.9 318.0 26.2 321.7 29.7C325.4 33.2 324.8 32.8 327.4 35.0C329.9 37.2 333.4 40.0 337.0 42.8C340.6 45.6 345.6 49.4 349.0 51.8C352.4 54.2 354.4 55.7 357.4 57.2C360.4 58.7 363.6 59.8 367.0 60.8C370.4 61.8 374.4 62.1 377.8 63.2C381.2 64.3 383.8 66.2 387.4 67.4C391.0 68.6 395.9 69.6 399.5 70.4C403.1 71.2 406.4 71.6 409.0 72.2C411.6 72.8 412.4 74.0 415.0 74.0C417.6 74.0 421.4 72.7 424.7 72.2C428.0 71.7 431.2 70.9 435.0 71.0C438.8 71.1 443.3 72.3 447.5 73.0C451.7 73.7 456.2 74.2 460.0 75.0C463.8 75.8 465.0 76.0 470.0 77.5C475.0 79.0 483.3 81.9 490.0 84.0C496.7 86.1 504.2 88.0 510.0 90.0C515.8 92.0 520.8 94.3 525.0 96.0C529.2 97.7 531.9 98.5 535.3 100.1C538.7 101.6 542.2 104.0 545.6 105.3C549.0 106.6 552.5 107.1 555.9 107.9C559.3 108.7 562.8 109.1 566.2 109.9C569.6 110.7 573.0 111.7 576.4 112.5C579.8 113.3 584.1 114.0 586.7 114.5C589.3 115.0 588.1 114.5 592.0 115.3C595.9 116.1 604.5 118.0 610.0 119.5C615.5 121.0 620.7 122.8 625.0 124.2C629.3 125.6 632.3 126.5 636.0 127.8C639.7 129.1 643.7 130.3 647.0 132.0C650.3 133.7 653.0 135.9 656.0 138.0C659.0 140.1 661.3 142.1 665.0 144.5C668.7 146.9 673.5 149.6 678.0 152.5C682.5 155.4 687.3 158.9 692.0 162.0C696.7 165.1 702.1 168.0 706.4 171.0C710.7 174.0 714.2 177.1 718.0 180.0C721.8 182.9 725.3 185.3 729.0 188.5C732.7 191.7 736.0 195.1 740.0 199.0C744.0 202.9 748.5 207.1 753.0 212.0C757.5 216.9 762.3 223.4 767.0 228.7C771.7 234.0 776.3 239.5 781.0 244.0C785.7 248.5 791.4 252.6 795.4 255.5C799.4 258.4 800.8 260.7 805.0 261.4C809.2 262.1 815.2 260.5 820.4 259.9C825.5 259.2 831.0 258.5 835.9 257.5C840.8 256.5 844.6 254.6 849.8 253.9C854.9 253.2 861.8 253.6 866.8 253.2C871.8 252.8 875.1 252.6 880.0 251.2C884.9 249.8 890.9 246.6 896.3 244.9C901.7 243.2 907.2 242.4 912.6 241.2C918.0 240.0 923.5 238.8 928.9 237.6C934.3 236.4 940.0 235.2 945.2 234.0C950.4 232.8 955.9 231.2 960.0 230.3C964.1 229.4 968.3 228.6 970.0 228.3" fill="none" stroke="#ff5050" stroke-width="0.9" stroke-linejoin="round" />
<line x1="2" y1="205.5" x2="1187" y2="205.5" stroke="#f00" stroke-width="2" stroke-dasharray="2 2" shape-rendering="crispEdges"/>
<line x1="0" y1="223.5" x2="1187" y2="223.5" stroke="#0000ff" stroke-width="1" shape-rendering="crispEdges"/>
<line x1="665" y1="280" x2="707" y2="280" stroke="#00e400" stroke-width="1.6"/>
<line x1="725" y1="322.7" x2="799" y2="322.7" stroke="#00e400" stroke-width="1.6"/>
<line x1="876.5" y1="285.3" x2="928" y2="285.3" stroke="#00e400" stroke-width="1.6"/>
<line x1="238.3" y1="6.3" x2="1100" y2="266.6" stroke="#ff0000" stroke-width="3.2"/>
<line x1="642" y1="206.5" x2="1045.3" y2="174" stroke="#00f000" stroke-width="3.1"/>
<g stroke="#5050ff" stroke-width="1.15" fill="none"><line x1="753.4" y1="322.3" x2="753.4" y2="198"/><polyline points="749.1999999999999,206.3 753.4,198 757.6,206.3"/><line x1="749.4" y1="322.3" x2="757.4" y2="322.3" stroke="#8c8cff"/></g>
<g stroke="#5050ff" stroke-width="1.15" fill="none"><line x1="965.4" y1="179" x2="965.4" y2="54.2"/><polyline points="961.1999999999999,62.5 965.4,54.2 969.6,62.5"/><line x1="961.4" y1="179" x2="969.4" y2="179" stroke="#8c8cff"/></g>
<text x="971.6" y="126.3" font-family="Liberation Serif, serif" font-size="10" fill="#0000ff" stroke="#0000ff" stroke-width="0.15" textLength="65">144,76%(1,773)</text>
</g>
<defs><linearGradient id="eqg" x1="0" y1="0" x2="0.3" y2="1"><stop offset="0" stop-color="#1d9c47"/><stop offset="0.35" stop-color="#3bb064"/><stop offset="0.45" stop-color="#159640"/><stop offset="1" stop-color="#0f9a3c"/></linearGradient></defs>
<rect x="24" y="2" width="16" height="16" fill="url(#eqg)"/>
<text x="27.3" y="12.6" font-family="Liberation Sans, sans-serif" font-weight="bold" font-size="9.5" fill="#fff" textLength="10.5" lengthAdjust="spacingAndGlyphs">Eq</text>
<text x="41.5" y="12" font-family="Liberation Serif, serif" font-size="11" fill="#0000ff" stroke="#0000ff" stroke-width="0.15" textLength="119">BES:xlis Semanal TMG+0</text>
<path d="M163 8 h6 l-3 3.2z" fill="#0000ff"/>
<text x="178.5" y="12" font-family="Liberation Serif, serif" font-size="11" fill="#ff0000" stroke="#ff0000" stroke-width="0.15" textLength="31.5">MA 50</text>
<path d="M212.5 8 h6 l-3 3.2z" fill="#ff0000"/>
<text x="228.5" y="12" font-family="Liberation Serif, serif" font-size="11" fill="#00e400" stroke="#00e400" stroke-width="0.15" textLength="37">MA 200</text>
<path d="M269.5 8 h6 l-3 3.2z" fill="#00e400"/>
<rect x="0" y="331" width="1269" height="1" fill="#0000ff" shape-rendering="crispEdges"/>
<rect x="0" y="387" width="1269" height="1" fill="#0000ff" shape-rendering="crispEdges"/>
<rect x="0" y="442" width="1269" height="1" fill="#0000ff" shape-rendering="crispEdges"/>
<rect x="0" y="498" width="1269" height="1" fill="#0000ff" shape-rendering="crispEdges"/>
<g id="vol" fill="#0000ff" shape-rendering="crispEdges">
<rect x="1" y="386" width="2" height="1"/>
<rect x="4" y="385" width="2" height="2"/>
<rect x="7" y="385" width="2" height="2"/>
<rect x="10" y="386" width="2" height="1"/>
<rect x="13" y="386" width="2" height="1"/>
<rect x="16" y="386" width="2" height="1"/>
<rect x="18" y="386" width="2" height="1"/>
<rect x="21" y="385" width="2" height="2"/>
<rect x="24" y="386" width="2" height="1"/>
<rect x="27" y="385" width="2" height="2"/>
<rect x="30" y="385" width="2" height="2"/>
<rect x="33" y="385" width="2" height="2"/>
<rect x="36" y="386" width="2" height="1"/>
<rect x="38" y="385" width="2" height="2"/>
<rect x="41" y="386" width="2" height="1"/>
<rect x="44" y="385" width="2" height="2"/>
<rect x="47" y="386" width="2" height="1"/>
<rect x="50" y="386" width="2" height="1"/>
<rect x="53" y="385" width="2" height="2"/>
<rect x="56" y="386" width="2" height="1"/>
<rect x="59" y="385" width="2" height="2"/>
<rect x="61" y="385" width="2" height="2"/>
<rect x="64" y="386" width="2" height="1"/>
<rect x="67" y="386" width="2" height="1"/>
<rect x="70" y="386" width="2" height="1"/>
<rect x="73" y="385" width="2" height="2"/>
<rect x="76" y="385" width="2" height="2"/>
<rect x="79" y="386" width="2" height="1"/>
<rect x="81" y="386" width="2" height="1"/>
<rect x="84" y="386" width="2" height="1"/>
<rect x="87" y="385" width="2" height="2"/>
<rect x="90" y="386" width="2" height="1"/>
<rect x="93" y="386" width="2" height="1"/>
<rect x="96" y="386" width="2" height="1"/>
<rect x="99" y="386" width="2" height="1"/>
<rect x="102" y="384" width="2" height="3"/>
<rect x="104" y="384" width="2" height="3"/>
<rect x="107" y="384" width="2" height="3"/>
<rect x="110" y="384" width="2" height="3"/>
<rect x="113" y="384" width="2" height="3"/>
<rect x="116" y="385" width="2" height="2"/>
<rect x="119" y="385" width="2" height="2"/>
<rect x="122" y="384" width="2" height="3"/>
<rect x="125" y="384" width="2" height="3"/>
<rect x="127" y="386" width="2" height="1"/>
<rect x="130" y="384" width="2" height="3"/>
<rect x="133" y="385" width="2" height="2"/>
<rect x="136" y="385" width="2" height="2"/>
<rect x="139" y="385" width="2" height="2"/>
<rect x="142" y="385" width="2" height="2"/>
<rect x="145" y="386" width="2" height="1"/>
<rect x="147" y="385" width="2" height="2"/>
<rect x="150" y="385" width="2" height="2"/>
<rect x="153" y="384" width="2" height="3"/>
<rect x="156" y="386" width="2" height="1"/>
<rect x="159" y="384" width="2" height="3"/>
<rect x="162" y="385" width="2" height="2"/>
<rect x="165" y="382" width="2" height="5"/>
<rect x="168" y="384" width="2" height="3"/>
<rect x="170" y="384" width="2" height="3"/>
<rect x="173" y="385" width="2" height="2"/>
<rect x="176" y="381" width="2" height="6"/>
<rect x="179" y="385" width="2" height="2"/>
<rect x="182" y="383" width="2" height="4"/>
<rect x="185" y="384" width="2" height="3"/>
<rect x="188" y="385" width="2" height="2"/>
<rect x="190" y="385" width="2" height="2"/>
<rect x="193" y="384" width="2" height="3"/>
<rect x="196" y="386" width="2" height="1"/>
<rect x="199" y="385" width="2" height="2"/>
<rect x="202" y="384" width="2" height="3"/>
<rect x="205" y="384" width="2" height="3"/>
<rect x="208" y="386" width="2" height="1"/>
<rect x="211" y="386" width="2" height="1"/>
<rect x="213" y="386" width="2" height="1"/>
<rect x="216" y="384" width="2" height="3"/>
<rect x="219" y="385" width="2" height="2"/>
<rect x="222" y="384" width="2" height="3"/>
<rect x="225" y="384" width="2" height="3"/>
<rect x="228" y="385" width="2" height="2"/>
<rect x="231" y="385" width="2" height="2"/>
<rect x="233" y="384" width="2" height="3"/>
<rect x="236" y="385" width="2" height="2"/>
<rect x="239" y="385" width="2" height="2"/>
<rect x="242" y="384" width="2" height="3"/>
<rect x="245" y="385" width="2" height="2"/>
<rect x="248" y="385" width="2" height="2"/>
<rect x="251" y="386" width="2" height="1"/>
<rect x="254" y="384" width="2" height="3"/>
<rect x="256" y="384" width="2" height="3"/>
<rect x="259" y="385" width="2" height="2"/>
<rect x="262" y="384" width="2" height="3"/>
<rect x="265" y="386" width="2" height="1"/>
<rect x="268" y="385" width="2" height="2"/>
<rect x="271" y="384" width="2" height="3"/>
<rect x="274" y="383" width="2" height="4"/>
<rect x="276" y="383" width="2" height="4"/>
<rect x="279" y="377" width="2" height="10"/>
<rect x="282" y="381" width="2" height="6"/>
<rect x="285" y="382" width="2" height="5"/>
<rect x="288" y="382" width="2" height="5"/>
<rect x="291" y="383" width="2" height="4"/>
<rect x="294" y="379" width="2" height="8"/>
<rect x="297" y="382" width="2" height="5"/>
<rect x="299" y="383" width="2" height="4"/>
<rect x="302" y="383" width="2" height="4"/>
<rect x="305" y="383" width="2" height="4"/>
<rect x="308" y="384" width="2" height="3"/>
<rect x="311" y="384" width="2" height="3"/>
<rect x="314" y="384" width="2" height="3"/>
<rect x="317" y="384" width="2" height="3"/>
<rect x="320" y="383" width="2" height="4"/>
<rect x="322" y="385" width="2" height="2"/>
<rect x="325" y="385" width="2" height="2"/>
<rect x="328" y="383" width="2" height="4"/>
<rect x="331" y="385" width="2" height="2"/>
<rect x="334" y="385" width="2" height="2"/>
<rect x="337" y="385" width="2" height="2"/>
<rect x="340" y="384" width="2" height="3"/>
<rect x="342" y="384" width="2" height="3"/>
<rect x="345" y="383" width="2" height="4"/>
<rect x="348" y="383" width="2" height="4"/>
<rect x="351" y="383" width="2" height="4"/>
<rect x="354" y="385" width="2" height="2"/>
<rect x="357" y="385" width="2" height="2"/>
<rect x="360" y="385" width="2" height="2"/>
<rect x="363" y="384" width="2" height="3"/>
<rect x="365" y="383" width="2" height="4"/>
<rect x="368" y="384" width="2" height="3"/>
<rect x="371" y="385" width="2" height="2"/>
<rect x="374" y="384" width="2" height="3"/>
<rect x="377" y="384" width="2" height="3"/>
<rect x="380" y="384" width="2" height="3"/>
<rect x="383" y="383" width="2" height="4"/>
<rect x="385" y="383" width="2" height="4"/>
<rect x="388" y="384" width="2" height="3"/>
<rect x="391" y="385" width="2" height="2"/>
<rect x="394" y="383" width="2" height="4"/>
<rect x="397" y="385" width="2" height="2"/>
<rect x="400" y="384" width="2" height="3"/>
<rect x="403" y="384" width="2" height="3"/>
<rect x="406" y="377" width="2" height="10"/>
<rect x="408" y="384" width="2" height="3"/>
<rect x="411" y="384" width="2" height="3"/>
<rect x="414" y="384" width="2" height="3"/>
<rect x="417" y="385" width="2" height="2"/>
<rect x="420" y="382" width="2" height="5"/>
<rect x="423" y="383" width="2" height="4"/>
<rect x="426" y="384" width="2" height="3"/>
<rect x="428" y="384" width="2" height="3"/>
<rect x="431" y="382" width="2" height="5"/>
<rect x="434" y="380" width="2" height="7"/>
<rect x="437" y="384" width="2" height="3"/>
<rect x="440" y="371" width="2" height="16"/>
<rect x="443" y="375" width="2" height="12"/>
<rect x="446" y="375" width="2" height="12"/>
<rect x="449" y="377" width="2" height="10"/>
<rect x="451" y="380" width="2" height="7"/>
<rect x="454" y="380" width="2" height="7"/>
<rect x="457" y="379" width="2" height="8"/>
<rect x="460" y="382" width="2" height="5"/>
<rect x="463" y="385" width="2" height="2"/>
<rect x="466" y="384" width="2" height="3"/>
<rect x="469" y="385" width="2" height="2"/>
<rect x="471" y="381" width="2" height="6"/>
<rect x="474" y="382" width="2" height="5"/>
<rect x="477" y="383" width="2" height="4"/>
<rect x="480" y="382" width="2" height="5"/>
<rect x="483" y="381" width="2" height="6"/>
<rect x="486" y="382" width="2" height="5"/>
<rect x="489" y="384" width="2" height="3"/>
<rect x="492" y="384" width="2" height="3"/>
<rect x="494" y="383" width="2" height="4"/>
<rect x="497" y="382" width="2" height="5"/>
<rect x="500" y="385" width="2" height="2"/>
<rect x="503" y="383" width="2" height="4"/>
<rect x="506" y="383" width="2" height="4"/>
<rect x="509" y="382" width="2" height="5"/>
<rect x="512" y="384" width="2" height="3"/>
<rect x="514" y="385" width="2" height="2"/>
<rect x="517" y="384" width="2" height="3"/>
<rect x="520" y="384" width="2" height="3"/>
<rect x="523" y="383" width="2" height="4"/>
<rect x="526" y="378" width="2" height="9"/>
<rect x="529" y="377" width="2" height="10"/>
<rect x="532" y="380" width="2" height="7"/>
<rect x="535" y="384" width="2" height="3"/>
<rect x="537" y="383" width="2" height="4"/>
<rect x="540" y="384" width="2" height="3"/>
<rect x="543" y="384" width="2" height="3"/>
<rect x="546" y="374" width="2" height="13"/>
<rect x="549" y="378" width="2" height="9"/>
<rect x="552" y="380" width="2" height="7"/>
<rect x="555" y="379" width="2" height="8"/>
<rect x="558" y="379" width="2" height="8"/>
<rect x="560" y="379" width="2" height="8"/>
<rect x="563" y="380" width="2" height="7"/>
<rect x="566" y="377" width="2" height="10"/>
<rect x="569" y="385" width="2" height="2"/>
<rect x="572" y="378" width="2" height="9"/>
<rect x="575" y="381" width="2" height="6"/>
<rect x="578" y="381" width="2" height="6"/>
<rect x="580" y="380" width="2" height="7"/>
<rect x="583" y="384" width="2" height="3"/>
<rect x="586" y="382" width="2" height="5"/>
<rect x="589" y="384" width="2" height="3"/>
<rect x="592" y="383" width="2" height="4"/>
<rect x="595" y="384" width="2" height="3"/>
<rect x="598" y="384" width="2" height="3"/>
<rect x="601" y="382" width="2" height="5"/>
<rect x="603" y="382" width="2" height="5"/>
<rect x="606" y="381" width="2" height="6"/>
<rect x="609" y="384" width="2" height="3"/>
<rect x="612" y="383" width="2" height="4"/>
<rect x="615" y="380" width="2" height="7"/>
<rect x="618" y="385" width="2" height="2"/>
<rect x="621" y="382" width="2" height="5"/>
<rect x="623" y="379" width="2" height="8"/>
<rect x="626" y="382" width="2" height="5"/>
<rect x="629" y="384" width="2" height="3"/>
<rect x="632" y="382" width="2" height="5"/>
<rect x="635" y="384" width="2" height="3"/>
<rect x="638" y="384" width="2" height="3"/>
<rect x="641" y="385" width="2" height="2"/>
<rect x="644" y="383" width="2" height="4"/>
<rect x="646" y="378" width="2" height="9"/>
<rect x="649" y="383" width="2" height="4"/>
<rect x="652" y="383" width="2" height="4"/>
<rect x="655" y="383" width="2" height="4"/>
<rect x="658" y="384" width="2" height="3"/>
<rect x="661" y="381" width="2" height="6"/>
<rect x="664" y="380" width="2" height="7"/>
<rect x="666" y="381" width="2" height="6"/>
<rect x="669" y="383" width="2" height="4"/>
<rect x="672" y="383" width="2" height="4"/>
<rect x="675" y="383" width="2" height="4"/>
<rect x="678" y="361" width="2" height="26"/>
<rect x="681" y="370" width="2" height="17"/>
<rect x="684" y="372" width="2" height="15"/>
<rect x="687" y="378" width="2" height="9"/>
<rect x="689" y="375" width="2" height="12"/>
<rect x="692" y="379" width="2" height="8"/>
<rect x="695" y="380" width="2" height="7"/>
<rect x="698" y="379" width="2" height="8"/>
<rect x="701" y="380" width="2" height="7"/>
<rect x="704" y="375" width="2" height="12"/>
<rect x="707" y="365" width="2" height="22"/>
<rect x="709" y="377" width="2" height="10"/>
<rect x="712" y="380" width="2" height="7"/>
<rect x="715" y="378" width="2" height="9"/>
<rect x="718" y="378" width="2" height="9"/>
<rect x="721" y="379" width="2" height="8"/>
<rect x="724" y="379" width="2" height="8"/>
<rect x="727" y="379" width="2" height="8"/>
<rect x="730" y="380" width="2" height="7"/>
<rect x="732" y="373" width="2" height="14"/>
<rect x="735" y="369" width="2" height="18"/>
<rect x="738" y="351" width="2" height="36"/>
<rect x="741" y="376" width="2" height="11"/>
<rect x="744" y="377" width="2" height="10"/>
<rect x="747" y="366" width="2" height="21"/>
<rect x="750" y="378" width="2" height="9"/>
<rect x="752" y="376" width="2" height="11"/>
<rect x="755" y="374" width="2" height="13"/>
<rect x="758" y="374" width="2" height="13"/>
<rect x="761" y="376" width="2" height="11"/>
<rect x="764" y="368" width="2" height="19"/>
<rect x="767" y="370" width="2" height="17"/>
<rect x="770" y="379" width="2" height="8"/>
<rect x="773" y="373" width="2" height="14"/>
<rect x="775" y="371" width="2" height="16"/>
<rect x="778" y="369" width="2" height="18"/>
<rect x="781" y="373" width="2" height="14"/>
<rect x="784" y="378" width="2" height="9"/>
<rect x="787" y="373" width="2" height="14"/>
<rect x="790" y="379" width="2" height="8"/>
<rect x="793" y="363" width="2" height="24"/>
<rect x="796" y="358" width="2" height="29"/>
<rect x="798" y="370" width="2" height="17"/>
<rect x="801" y="366" width="2" height="21"/>
<rect x="804" y="362" width="2" height="25"/>
<rect x="807" y="362" width="2" height="25"/>
<rect x="810" y="349" width="2" height="38"/>
<rect x="813" y="366" width="2" height="21"/>
<rect x="816" y="373" width="2" height="14"/>
<rect x="818" y="367" width="2" height="20"/>
<rect x="821" y="364" width="2" height="23"/>
<rect x="824" y="372" width="2" height="15"/>
<rect x="827" y="371" width="2" height="16"/>
<rect x="830" y="366" width="2" height="21"/>
<rect x="833" y="368" width="2" height="19"/>
<rect x="836" y="361" width="2" height="26"/>
<rect x="839" y="382" width="2" height="5"/>
<rect x="841" y="370" width="2" height="17"/>
<rect x="844" y="338" width="2" height="49"/>
<rect x="847" y="359" width="2" height="28"/>
<rect x="850" y="365" width="2" height="22"/>
<rect x="853" y="371" width="2" height="16"/>
<rect x="856" y="365" width="2" height="22"/>
<rect x="859" y="376" width="2" height="11"/>
<rect x="861" y="373" width="2" height="14"/>
<rect x="864" y="368" width="2" height="19"/>
<rect x="867" y="367" width="2" height="20"/>
<rect x="870" y="374" width="2" height="13"/>
<rect x="873" y="364" width="2" height="23"/>
<rect x="876" y="363" width="2" height="24"/>
<rect x="879" y="350" width="2" height="37"/>
<rect x="882" y="360" width="2" height="27"/>
<rect x="884" y="370" width="2" height="17"/>
<rect x="887" y="365" width="2" height="22"/>
<rect x="890" y="373" width="2" height="14"/>
<rect x="893" y="351" width="2" height="36"/>
<rect x="896" y="365" width="2" height="22"/>
<rect x="899" y="370" width="2" height="17"/>
<rect x="902" y="371" width="2" height="16"/>
<rect x="904" y="373" width="2" height="14"/>
<rect x="907" y="370" width="2" height="17"/>
<rect x="910" y="370" width="2" height="17"/>
<rect x="913" y="367" width="2" height="20"/>
<rect x="916" y="358" width="2" height="29"/>
<rect x="919" y="371" width="2" height="16"/>
<rect x="922" y="375" width="2" height="12"/>
<rect x="925" y="367" width="2" height="20"/>
<rect x="927" y="369" width="2" height="18"/>
<rect x="930" y="372" width="2" height="15"/>
<rect x="933" y="364" width="2" height="23"/>
<rect x="936" y="369" width="2" height="18"/>
<rect x="939" y="370" width="2" height="17"/>
<rect x="942" y="370" width="2" height="17"/>
<rect x="945" y="369" width="2" height="18"/>
<rect x="947" y="369" width="2" height="18"/>
<rect x="950" y="377" width="2" height="10"/>
<rect x="953" y="362" width="2" height="25"/>
<rect x="956" y="346" width="2" height="41"/>
<rect x="959" y="364" width="2" height="23"/>
<rect x="962" y="367" width="2" height="20"/>
<rect x="965" y="368" width="2" height="19"/>
<rect x="968" y="367" width="2" height="20"/>
<rect x="970" y="373" width="2" height="14"/>
<rect x="973" y="380" width="2" height="7"/>
</g>
<text x="25" y="343" font-family="Liberation Serif, serif" font-size="11" fill="#0000ff" stroke="#0000ff" stroke-width="0.15" textLength="76">BES:xlis Volume</text>
<ellipse cx="957.7" cy="349" rx="16.05" ry="22.6" fill="none" stroke="#e8141c" stroke-width="2.6"/>
<rect x="0" y="402" width="1187" height="2" fill="#ff0000" shape-rendering="crispEdges"/>
<rect x="0" y="432" width="1187" height="2" fill="#008000" shape-rendering="crispEdges"/>
<path d="M0.0 392.3C0.5 392.4 3.1 391.8 4.0 392.8C4.9 393.8 6.4 399.4 7.8 400.6C9.2 401.8 13.6 403.7 15.6 403.2C17.6 402.7 23.2 396.5 24.7 396.7C26.2 396.9 27.5 402.2 28.6 404.5C29.7 406.8 32.3 415.1 33.8 416.7C35.3 418.3 39.9 417.9 41.6 418.3C43.3 418.7 46.6 420.1 48.0 420.0C49.4 419.9 52.1 418.6 53.3 417.5C54.5 416.4 57.1 411.8 58.5 411.0C59.9 410.2 63.7 409.6 65.0 410.5C66.3 411.4 68.6 417.4 70.0 418.8C71.4 420.2 75.3 422.9 76.7 422.7C78.1 422.5 80.6 417.5 82.0 417.5C83.4 417.5 87.0 421.5 88.4 422.7C89.8 423.9 92.4 426.6 93.6 428.0C94.8 429.4 97.3 433.2 98.8 434.4C100.3 435.6 105.1 438.5 106.6 438.3C108.1 438.1 110.3 432.7 111.8 432.3C113.3 431.9 117.8 434.5 119.6 435.0C121.4 435.5 126.0 438.1 127.4 437.0C128.8 435.9 130.5 426.5 131.3 425.3C132.1 424.1 132.8 427.1 134.0 426.6C135.2 426.1 139.7 421.7 141.7 421.4C143.7 421.1 148.8 423.1 150.8 424.0C152.8 424.9 156.9 427.8 158.6 428.7C160.3 429.6 163.6 430.8 165.0 431.8C166.4 432.8 169.0 437.6 170.4 437.0C171.8 436.4 175.5 427.5 176.9 426.6C178.3 425.7 180.5 429.2 182.0 429.7C183.5 430.2 188.2 430.9 189.9 431.3C191.6 431.7 194.8 433.4 196.4 433.0C198.0 432.6 202.3 428.1 204.0 428.0C205.7 427.9 209.3 431.9 210.7 432.3C212.1 432.7 214.8 432.3 215.9 431.8C217.0 431.3 218.6 427.7 219.8 428.0C221.0 428.3 224.6 433.8 226.3 434.4C228.0 435.0 232.1 433.7 234.0 433.0C235.9 432.3 241.0 428.0 243.0 428.0C245.0 428.0 249.0 432.3 251.0 433.0C253.0 433.7 258.0 433.7 260.0 433.9C262.0 434.1 266.5 435.3 267.9 434.4C269.3 433.5 270.9 425.9 271.8 426.0C272.7 426.1 274.5 434.5 275.7 435.0C276.9 435.5 280.5 431.2 282.2 430.5C283.9 429.8 288.5 430.0 290.0 429.2C291.5 428.4 293.5 424.4 295.2 424.0C296.9 423.6 302.3 425.4 304.3 425.6C306.3 425.8 310.2 425.6 312.0 425.3C313.8 425.0 318.5 423.3 320.0 422.7C321.5 422.1 323.4 420.5 325.2 420.0C327.0 419.5 333.2 418.7 335.6 418.3C338.0 417.9 343.9 416.7 346.0 416.2C348.1 415.7 352.3 414.4 353.8 413.6C355.3 412.8 357.8 409.3 359.0 409.0C360.2 408.7 363.0 410.3 364.2 411.0C365.4 411.7 368.2 414.4 369.4 415.0C370.6 415.6 372.8 415.4 374.6 416.2C376.4 417.0 383.0 421.6 385.0 422.2C387.0 422.8 390.3 422.4 391.5 421.4C392.7 420.4 394.3 413.8 395.4 414.0C396.5 414.2 399.2 420.8 400.6 422.7C402.0 424.6 405.5 429.5 407.0 430.5C408.5 431.5 412.2 432.1 413.6 431.3C415.0 430.5 417.3 424.9 418.8 424.0C420.3 423.1 424.8 423.3 426.6 423.2C428.4 423.1 432.9 422.7 434.4 423.5C435.9 424.3 438.4 428.4 439.6 429.7C440.8 431.0 443.1 434.6 444.3 435.0C445.5 435.4 448.7 433.2 450.0 433.0C451.3 432.8 454.0 433.9 455.2 433.0C456.4 432.1 459.2 426.1 460.4 425.3C461.6 424.5 464.5 426.5 465.6 426.0C466.7 425.5 468.6 421.4 469.5 421.0C470.4 420.6 472.2 423.2 473.4 422.7C474.6 422.2 478.5 416.8 480.0 416.7C481.5 416.6 484.7 421.6 486.4 422.0C488.1 422.4 492.4 419.8 494.2 420.0C496.0 420.2 500.0 423.9 502.0 423.5C504.0 423.1 509.0 416.8 511.0 416.7C513.0 416.6 517.0 421.0 519.0 422.7C521.0 424.4 526.3 430.6 528.0 431.3C529.7 432.0 532.4 428.8 533.3 428.7C534.2 428.6 535.3 430.7 535.9 430.5C536.5 430.3 537.4 426.7 538.5 427.0C539.6 427.3 543.2 433.5 545.0 433.0C546.8 432.5 552.0 424.6 554.0 422.7C556.0 420.8 560.2 417.6 561.9 417.0C563.6 416.4 567.2 417.7 568.4 417.5C569.6 417.3 571.2 415.1 572.3 415.7C573.4 416.3 576.3 421.8 577.5 422.7C578.7 423.6 581.5 423.0 582.7 423.5C583.9 424.0 586.7 427.1 587.9 426.6C589.1 426.1 591.2 419.0 592.6 418.8C594.0 418.6 598.2 423.7 599.6 424.5C601.0 425.3 603.7 425.6 604.8 426.0C605.9 426.4 607.9 428.1 608.7 428.0C609.5 427.9 610.8 425.2 611.3 425.3C611.8 425.4 612.8 428.9 613.4 428.7C614.0 428.5 615.6 423.9 616.5 424.0C617.4 424.1 620.1 429.7 621.2 429.2C622.3 428.7 624.5 420.5 625.6 420.0C626.7 419.5 629.4 424.5 630.8 425.3C632.2 426.1 636.2 427.0 637.3 427.0C638.4 427.0 639.2 425.2 640.0 425.3C640.8 425.4 642.7 427.4 643.9 428.0C645.1 428.6 649.2 430.5 650.4 430.5C651.6 430.5 653.2 428.0 654.3 428.0C655.4 428.0 658.4 429.8 659.5 430.5C660.6 431.2 662.2 433.3 663.4 434.0C664.6 434.7 668.6 436.0 670.0 436.5C671.4 437.0 674.0 438.8 675.0 438.3C676.0 437.8 677.9 432.8 679.0 432.3C680.1 431.8 683.3 435.1 684.7 434.4C686.1 433.7 689.5 427.3 690.7 426.6C691.9 425.9 693.5 428.2 694.6 428.0C695.7 427.8 698.6 425.6 699.8 425.3C701.0 425.0 703.3 426.4 704.5 425.3C705.7 424.2 708.8 417.0 710.2 416.2C711.6 415.4 715.5 417.7 716.7 418.3C717.9 418.9 719.7 421.1 720.6 421.4C721.5 421.7 723.4 420.4 724.5 421.0C725.6 421.6 728.5 425.4 729.7 426.6C730.9 427.8 733.8 431.1 735.0 431.3C736.2 431.5 738.8 428.4 740.0 428.0C741.2 427.6 744.1 427.4 745.3 428.0C746.5 428.6 749.6 432.4 750.5 433.0C751.4 433.6 752.2 433.5 753.0 433.0C753.8 432.5 755.6 429.4 757.0 428.7C758.4 428.0 763.1 426.7 764.8 426.6C766.5 426.5 769.8 427.6 771.3 428.0C772.8 428.4 776.3 430.2 777.8 429.7C779.3 429.2 782.9 424.3 784.3 423.5C785.7 422.7 788.4 423.6 789.5 422.7C790.6 421.8 792.5 416.6 793.4 415.7C794.3 414.8 796.3 414.4 797.3 415.0C798.3 415.6 800.9 421.0 801.8 421.0C802.7 421.0 804.0 416.2 805.0 415.0C806.0 413.8 808.8 411.6 810.3 411.0C811.8 410.4 816.6 409.5 818.0 409.7C819.4 409.9 821.0 412.8 822.0 413.0C823.0 413.2 825.8 412.2 827.0 411.5C828.2 410.8 831.0 407.9 832.5 407.0C834.0 406.1 838.5 404.8 840.0 403.7C841.5 402.6 844.1 398.4 845.5 398.0C846.9 397.6 850.8 398.8 852.0 400.0C853.2 401.2 855.0 406.8 855.9 407.9C856.8 408.9 858.7 408.2 859.8 409.0C860.9 409.8 863.9 414.7 865.0 415.0C866.1 415.3 867.9 411.1 868.9 411.5C869.9 411.9 872.8 417.3 874.0 418.8C875.2 420.3 878.1 424.1 879.3 424.5C880.5 424.9 883.3 422.8 884.5 422.0C885.7 421.2 888.5 417.7 889.7 417.5C890.9 417.3 893.4 419.5 894.9 420.0C896.4 420.5 901.2 421.5 902.7 422.0C904.2 422.5 906.8 423.2 907.9 424.0C909.0 424.8 910.4 428.0 911.8 428.7C913.2 429.4 918.1 431.0 919.6 430.0C921.1 429.0 923.7 421.5 924.8 420.0C925.9 418.5 927.5 418.7 928.7 417.5C929.9 416.3 933.8 409.8 935.2 409.7C936.6 409.6 939.2 416.2 940.4 416.7C941.6 417.2 944.4 414.1 945.6 414.0C946.8 413.9 949.5 417.2 950.8 416.2C952.1 415.2 955.1 405.6 956.5 405.3C957.9 405.0 960.9 413.0 962.5 413.6C964.1 414.2 968.7 410.9 970.0 410.5C971.3 410.1 973.5 410.1 974.0 410.0" fill="none" stroke="#0000ff" stroke-width="1.9" stroke-linejoin="round" stroke-dasharray="2.6 0.3"/>
<text x="25" y="399" font-family="Liberation Serif, serif" font-size="11" fill="#0000ff" stroke="#0000ff" stroke-width="0.15" textLength="79">RSI 14 Suavizado</text>
<path d="M107 394.5 h6 l-3 3.2z" fill="#0000ff"/>
<rect x="0" y="455" width="1187" height="1" fill="#ff0000" shape-rendering="crispEdges"/>
<rect x="0" y="486" width="1187" height="1" fill="#000" shape-rendering="crispEdges"/>
<path d="M0.0 453.0C0.6 452.5 2.0 450.0 3.9 450.0C5.8 450.0 9.3 451.8 11.7 453.0C14.1 454.2 15.8 456.8 18.2 457.0C20.6 457.2 23.8 453.9 26.0 454.3C28.2 454.7 29.5 455.8 31.2 459.5C32.9 463.2 34.4 471.8 36.4 476.4C38.4 480.9 40.8 484.9 43.0 486.8C45.2 488.7 47.2 488.6 49.4 488.0C51.6 487.4 53.6 487.8 56.0 483.0C58.4 478.2 61.7 464.3 63.7 459.5C65.7 454.7 66.5 453.7 68.0 454.3C69.5 454.9 70.9 459.7 72.8 463.4C74.7 467.1 76.9 473.8 79.3 476.4C81.7 479.0 84.6 477.7 87.0 479.0C89.4 480.3 91.4 482.0 93.6 484.2C95.8 486.4 97.8 491.1 100.0 492.0C102.2 492.9 104.0 490.5 106.6 489.4C109.2 488.3 113.1 485.9 115.7 485.5C118.3 485.1 120.0 486.2 122.0 486.8C124.0 487.4 125.4 490.3 127.4 489.4C129.4 488.5 131.4 486.6 134.0 481.6C136.6 476.6 140.5 463.9 143.0 459.5C145.5 455.1 146.9 454.6 148.8 455.0C150.8 455.4 152.4 457.3 154.7 462.0C157.0 466.7 159.9 477.9 162.5 483.0C165.1 488.1 168.0 492.1 170.4 492.5C172.8 492.9 174.3 488.2 176.9 485.5C179.5 482.8 183.4 477.0 186.0 476.4C188.6 475.8 190.2 480.2 192.5 481.6C194.8 483.0 197.8 484.8 200.0 484.7C202.2 484.6 203.3 482.0 205.5 481.0C207.7 480.0 210.7 478.6 213.3 478.5C215.9 478.4 218.4 479.1 221.0 480.3C223.6 481.5 226.5 483.9 228.9 485.5C231.3 487.1 233.2 490.6 235.4 490.0C237.6 489.4 239.7 483.7 241.9 481.6C244.1 479.6 246.2 477.5 248.4 477.7C250.6 477.9 252.7 480.6 254.9 483.0C257.1 485.4 259.4 490.3 261.4 492.0C263.3 493.7 264.9 494.0 266.6 493.3C268.3 492.6 270.1 488.7 271.8 488.0C273.5 487.3 275.1 489.2 277.0 488.9C278.9 488.6 281.6 486.6 283.5 486.3C285.4 486.0 286.5 488.0 288.7 486.8C290.9 485.6 293.7 482.2 296.5 479.0C299.3 475.8 303.0 468.6 305.6 467.3C308.2 466.0 309.8 469.2 312.0 471.2C314.2 473.1 317.1 477.9 318.6 479.0C320.1 480.1 320.1 478.9 321.0 478.0C321.9 477.1 322.3 477.1 323.9 473.8C325.5 470.5 328.4 461.9 330.4 458.2C332.3 454.5 333.0 453.1 335.6 451.7C338.2 450.3 342.5 449.9 346.0 449.9C349.5 449.9 352.9 451.2 356.4 451.7C359.9 452.2 364.2 451.3 366.8 453.0C369.4 454.7 370.1 458.3 372.0 462.0C373.9 465.7 376.1 471.1 378.5 475.0C380.9 478.9 384.1 483.9 386.3 485.5C388.5 487.1 389.8 486.2 391.5 484.7C393.2 483.2 394.9 477.9 396.7 476.4C398.4 474.9 400.3 475.0 402.0 475.9C403.7 476.8 405.1 479.1 407.0 481.6C408.9 484.1 411.4 489.6 413.6 490.7C415.8 491.8 417.8 489.9 420.0 488.0C422.2 486.1 424.2 482.6 426.6 479.0C429.0 475.4 432.2 468.0 434.4 466.5C436.6 465.0 437.9 467.9 439.6 470.0C441.3 472.1 443.1 476.4 444.8 479.0C446.5 481.6 448.3 483.6 450.0 485.5C451.7 487.4 453.2 491.1 455.2 490.7C457.1 490.3 459.3 486.2 461.7 483.0C464.1 479.8 467.1 474.2 469.5 471.2C471.9 468.1 474.1 466.6 476.0 464.7C477.9 462.8 479.2 459.7 481.2 459.5C483.1 459.3 485.5 461.0 487.7 463.4C489.9 465.8 491.8 470.7 494.2 473.8C496.6 476.9 499.8 480.7 502.0 482.0C504.2 483.3 505.4 484.1 507.2 481.6C508.9 479.2 510.8 470.3 512.5 467.3C514.2 464.3 516.0 462.9 517.7 463.4C519.4 463.8 521.0 466.3 522.9 470.0C524.8 473.7 527.2 482.7 529.4 485.5C531.6 488.3 533.1 486.4 535.9 486.8C538.7 487.2 543.5 489.3 546.3 488.0C549.1 486.7 550.6 483.3 552.8 479.0C555.0 474.7 557.1 466.6 559.3 462.0C561.5 457.4 563.6 453.4 565.8 451.7C568.0 450.0 570.3 450.0 572.3 451.7C574.2 453.4 575.5 457.9 577.5 462.0C579.5 466.1 582.0 472.5 584.0 476.4C586.0 480.3 587.2 484.6 589.2 485.5C591.2 486.4 593.3 482.4 595.7 482.0C598.1 481.6 601.3 482.0 603.5 483.0C605.7 484.0 607.0 486.9 608.7 488.0C610.4 489.1 611.7 489.6 613.9 489.4C616.1 489.2 619.5 489.2 621.7 486.8C623.9 484.4 624.7 477.4 626.9 475.0C629.1 472.6 632.5 471.4 634.7 472.5C636.9 473.6 638.4 479.3 639.9 481.6C641.4 483.9 642.1 485.4 643.9 486.3C645.6 487.2 648.0 487.6 650.4 487.3C652.8 487.0 655.6 484.7 658.2 484.7C660.8 484.7 663.4 485.9 666.0 487.3C668.6 488.7 671.2 492.5 673.8 493.3C676.4 494.1 679.2 492.9 681.6 492.0C684.0 491.1 686.0 489.9 688.0 488.0C690.0 486.1 691.1 484.2 693.3 480.3C695.5 476.4 698.4 468.6 701.0 464.7C703.6 460.8 706.6 458.8 709.0 456.9C711.4 455.0 713.2 453.1 715.4 453.5C717.6 453.9 719.6 455.7 722.0 459.5C724.4 463.3 727.1 471.9 729.7 476.4C732.3 480.9 735.1 484.6 737.5 486.3C739.9 488.0 741.4 485.9 744.0 486.3C746.6 486.8 750.2 488.9 753.0 489.0C755.8 489.1 758.6 488.9 761.0 486.8C763.4 484.7 765.2 478.6 767.4 476.4C769.5 474.2 771.7 473.6 773.9 473.8C776.1 474.0 777.8 478.1 780.4 477.7C783.0 477.3 786.9 474.4 789.5 471.2C792.1 468.0 793.8 460.8 796.0 458.7C798.2 456.6 800.1 458.6 802.5 458.7C804.9 458.8 807.7 460.4 810.3 459.5C812.9 458.6 815.4 454.5 818.0 453.5C820.6 452.5 823.4 453.7 826.0 453.5C828.6 453.3 831.2 453.5 833.8 452.5C836.4 451.5 839.0 447.7 841.6 447.3C844.2 446.9 846.8 447.9 849.4 449.9C852.0 451.9 854.8 455.7 857.2 459.5C859.6 463.3 861.5 468.9 863.7 472.5C865.9 476.1 868.0 479.0 870.2 481.0C872.4 483.0 874.3 484.2 876.7 484.7C879.1 485.2 882.1 485.7 884.5 484.2C886.9 482.7 888.6 478.1 891.0 475.9C893.4 473.7 896.4 471.1 898.8 471.2C901.2 471.3 903.1 473.8 905.3 476.4C907.5 479.0 909.6 484.5 911.8 486.8C914.0 489.1 916.3 490.4 918.3 490.0C920.2 489.6 921.5 488.2 923.5 484.2C925.5 480.2 927.8 471.4 930.0 466.0C932.2 460.6 934.3 453.9 936.5 451.7C938.7 449.5 940.6 451.4 943.0 453.0C945.4 454.6 948.6 460.7 950.8 461.3C953.0 461.9 953.8 457.1 956.0 456.9C958.2 456.7 961.5 459.0 963.8 460.3C966.1 461.6 968.3 463.8 970.0 464.7C971.7 465.6 973.3 465.8 974.0 466.0" fill="none" stroke="#000" stroke-width="2.0" stroke-linejoin="round" stroke-dasharray="2.6 0.3"/>
<path d="M0.0 460.8C0.9 459.5 3.3 454.5 5.2 453.0C7.2 451.5 9.3 451.4 11.7 451.7C14.1 452.0 16.7 454.4 19.5 455.0C22.3 455.6 26.0 454.2 28.6 455.6C31.2 457.0 32.8 459.9 35.0 463.4C37.2 466.9 39.4 472.7 41.6 476.4C43.8 480.1 46.0 483.7 48.0 485.5C50.0 487.3 51.3 487.9 53.3 487.3C55.3 486.7 57.4 485.2 59.8 481.6C62.2 478.1 65.2 469.8 67.6 466.0C70.0 462.2 72.3 459.4 74.0 458.7C75.7 458.0 76.5 459.7 78.0 462.0C79.5 464.3 81.0 469.7 83.2 472.5C85.4 475.3 88.4 476.8 91.0 479.0C93.6 481.2 96.2 483.7 98.8 485.5C101.4 487.3 104.0 489.6 106.6 490.0C109.2 490.4 111.8 488.6 114.4 488.0C117.0 487.4 119.6 486.4 122.2 486.3C124.8 486.2 127.4 488.2 130.0 487.6C132.6 487.1 135.2 486.2 137.8 483.0C140.4 479.8 143.0 472.8 145.6 468.6C148.2 464.4 151.2 458.6 153.4 457.7C155.6 456.8 156.4 459.8 158.6 463.4C160.8 466.9 163.8 474.7 166.4 479.0C169.0 483.3 171.6 488.1 174.2 489.4C176.8 490.7 179.2 488.4 182.0 486.8C184.8 485.2 188.4 480.5 191.0 479.5C193.6 478.5 195.2 480.3 197.6 481.0C200.0 481.7 202.8 483.6 205.4 483.7C208.0 483.8 210.7 482.3 213.3 481.6C215.9 480.9 218.4 479.5 221.0 479.5C223.6 479.5 226.1 480.2 228.9 481.6C231.7 483.0 235.2 487.6 238.0 488.0C240.8 488.4 243.2 485.5 245.8 484.2C248.4 482.9 251.2 480.3 253.6 480.3C256.0 480.3 257.6 482.5 260.0 484.2C262.4 485.9 265.3 489.6 267.9 490.7C270.5 491.8 273.1 491.1 275.7 490.7C278.3 490.2 280.9 488.6 283.5 488.0C286.1 487.4 288.7 487.9 291.3 486.8C293.9 485.7 296.0 484.3 299.0 481.6C302.0 478.9 306.7 472.4 309.5 470.7C312.3 469.0 314.2 470.7 316.0 471.2C317.8 471.7 318.7 472.9 320.0 473.8C321.3 474.7 322.4 476.6 323.9 476.4C325.4 476.2 326.8 475.5 329.0 472.5C331.2 469.5 334.1 461.8 336.9 458.2C339.7 454.6 342.3 452.0 346.0 450.9C349.7 449.8 355.3 451.4 359.0 451.7C362.7 452.0 365.2 450.8 368.0 452.5C370.8 454.2 373.3 458.0 375.9 462.0C378.5 466.0 381.1 472.8 383.7 476.4C386.3 480.0 388.7 483.2 391.5 483.7C394.3 484.2 398.0 480.5 400.6 479.5C403.2 478.5 404.8 476.9 407.0 477.7C409.2 478.5 411.2 482.5 413.6 484.2C416.0 485.9 418.8 488.5 421.4 488.0C424.0 487.5 426.6 483.9 429.2 481.0C431.8 478.1 434.6 472.5 437.0 470.7C439.4 468.9 441.3 468.8 443.5 470.0C445.7 471.2 447.4 474.7 450.0 477.7C452.6 480.7 456.4 486.7 459.0 488.0C461.6 489.3 463.2 487.7 465.6 485.5C468.0 483.3 470.8 478.3 473.4 475.0C476.0 471.7 478.6 467.7 481.2 465.5C483.8 463.3 486.4 461.2 489.0 462.0C491.6 462.8 493.8 466.8 496.8 470.0C499.8 473.2 504.2 480.2 507.2 481.0C510.2 481.8 512.4 477.4 515.0 475.0C517.6 472.6 520.7 467.3 522.9 466.5C525.1 465.7 525.8 467.2 528.0 470.0C530.2 472.8 532.9 480.0 535.9 483.0C538.9 486.0 543.0 488.0 546.3 488.0C549.5 488.0 552.6 486.4 555.4 483.0C558.2 479.6 560.6 472.1 563.2 467.3C565.8 462.5 568.6 456.7 571.0 454.3C573.4 451.9 575.5 451.7 577.5 453.0C579.5 454.3 580.5 457.9 582.7 462.0C584.9 466.1 588.1 474.4 590.5 477.7C592.9 481.0 594.6 481.1 597.0 482.0C599.4 482.9 602.2 482.2 604.8 483.0C607.4 483.8 610.0 485.8 612.6 486.8C615.2 487.8 617.8 489.6 620.4 489.0C623.0 488.4 625.6 485.4 628.2 483.0C630.8 480.6 634.0 475.6 636.0 474.3C638.0 473.0 638.0 473.6 640.0 475.0C642.0 476.4 644.8 481.2 647.8 483.0C650.8 484.8 655.2 484.9 658.2 485.5C661.2 486.1 663.4 485.6 666.0 486.3C668.6 487.1 671.0 489.1 673.8 490.0C676.6 490.9 680.2 492.3 683.0 492.0C685.8 491.7 688.1 490.5 690.7 488.0C693.3 485.5 695.7 481.2 698.5 477.0C701.3 472.8 704.6 466.5 707.6 463.0C710.6 459.5 714.1 456.8 716.7 456.0C719.3 455.2 720.8 455.8 723.2 458.2C725.6 460.6 728.2 466.6 731.0 470.7C733.8 474.8 737.0 480.3 740.0 483.0C743.0 485.7 746.2 486.0 749.2 486.8C752.2 487.6 755.5 488.4 758.3 488.0C761.1 487.6 763.4 486.6 766.0 484.7C768.6 482.8 771.3 478.0 773.9 476.4C776.5 474.8 779.1 475.4 781.7 475.0C784.3 474.6 786.9 475.3 789.5 473.8C792.1 472.3 794.7 468.5 797.3 466.0C799.9 463.5 802.4 459.9 805.0 458.7C807.6 457.5 810.2 459.2 813.0 458.7C815.8 458.2 818.8 456.5 822.0 455.6C825.2 454.7 829.2 454.3 832.5 453.5C835.8 452.7 838.6 451.6 841.6 450.9C844.6 450.1 847.9 448.2 850.7 449.0C853.5 449.8 855.9 452.1 858.5 455.6C861.1 459.1 863.7 465.9 866.3 470.0C868.9 474.1 871.2 477.9 874.0 480.3C876.8 482.8 880.2 484.5 883.0 484.7C885.8 484.9 888.2 483.4 891.0 481.6C893.8 479.8 897.2 475.1 900.0 473.8C902.8 472.5 905.5 472.5 907.9 473.8C910.3 475.1 912.0 479.2 914.4 481.6C916.8 484.0 919.8 487.6 922.2 488.0C924.6 488.4 926.3 487.6 928.7 484.2C931.1 480.8 934.1 472.3 936.5 467.3C938.9 462.3 940.8 456.5 943.0 454.3C945.2 452.1 947.3 453.9 949.5 454.3C951.7 454.7 953.6 456.2 956.0 456.9C958.4 457.6 961.5 458.1 963.8 458.7C966.1 459.3 968.3 459.8 970.0 460.3C971.7 460.9 973.3 461.7 974.0 462.0" fill="none" stroke="#ff0000" stroke-width="1.9" stroke-linejoin="round" stroke-dasharray="2.6 0.3"/>
<text x="25" y="454" font-family="Liberation Serif, serif" font-size="11" fill="#000" stroke="#000" stroke-width="0.15" textLength="50">PKS 9; 5; 5</text>
<path d="M78.5 450 h6 l-3 3.2z" fill="#000"/>
<clipPath id="cm"><rect x="0" y="499" width="1187" height="54"/></clipPath><g clip-path="url(#cm)">
<path d="M49.4 498.4C50.1 499.1 52.1 502.8 53.8 502.8C55.4 502.8 58.4 499.1 59.3 498.4" fill="none" stroke="#ff0000" stroke-width="1.9" stroke-linejoin="round" stroke-dasharray="2.6 0.3"/>
<path d="M68.9 498.4C69.6 500.4 71.5 506.4 72.8 510.6C74.1 514.8 75.2 521.1 76.7 523.6C78.2 526.1 80.5 524.2 82.0 525.7C83.5 527.2 84.5 530.0 85.8 532.7C87.1 535.4 88.5 538.5 89.7 541.8C90.9 545.1 92.5 550.9 93.0 552.7" fill="none" stroke="#ff0000" stroke-width="1.9" stroke-linejoin="round" stroke-dasharray="2.6 0.3"/>
<path d="M343.4 552.7C344.3 551.1 346.7 546.1 348.6 543.0C350.5 539.9 352.8 537.9 355.0 534.0C357.2 530.1 359.6 522.7 361.6 519.7C363.6 516.8 364.9 516.8 366.8 516.3C368.8 515.8 371.4 516.2 373.3 517.0C375.2 517.8 376.6 519.0 378.5 521.0C380.4 523.0 382.8 526.7 385.0 528.8C387.2 530.9 389.6 533.3 391.5 533.5C393.4 533.7 394.9 529.5 396.7 530.0C398.4 530.5 400.5 534.0 402.0 536.6C403.5 539.2 404.6 543.0 405.8 545.7C407.0 548.4 408.6 551.5 409.2 552.7" fill="none" stroke="#ff0000" stroke-width="1.9" stroke-linejoin="round" stroke-dasharray="2.6 0.3"/>
<path d="M478.6 552.7C479.2 552.1 480.3 550.2 482.5 549.0C484.7 547.8 489.2 546.5 491.6 545.7C494.0 544.9 494.6 544.7 496.8 544.4C499.0 544.1 502.2 544.8 504.6 543.9C507.0 543.0 509.0 540.4 511.0 539.2C513.0 538.0 514.4 536.5 516.4 536.6C518.4 536.7 521.0 538.2 522.9 539.7C524.8 541.2 526.0 543.8 528.0 545.7C530.0 547.6 532.6 549.8 534.6 551.0C536.6 552.2 538.9 552.4 539.8 552.7" fill="none" stroke="#ff0000" stroke-width="1.9" stroke-linejoin="round" stroke-dasharray="2.6 0.3"/>
<path d="M556.7 552.7C557.8 551.3 561.0 546.7 563.2 544.4C565.4 542.1 567.8 540.0 569.7 538.7C571.7 537.4 572.7 536.5 574.9 536.6C577.1 536.7 580.3 538.1 582.7 539.2C585.1 540.3 587.0 542.6 589.2 543.0C591.4 543.4 593.5 541.1 595.7 541.3C597.9 541.4 600.0 542.9 602.2 543.9C604.4 544.9 606.3 545.8 608.7 547.0C611.1 548.2 614.3 550.1 616.5 551.0C618.7 551.9 619.8 552.4 621.7 552.2C623.7 552.0 626.0 549.9 628.2 550.0C630.4 550.1 633.6 552.2 634.7 552.7" fill="none" stroke="#ff0000" stroke-width="1.9" stroke-linejoin="round" stroke-dasharray="2.6 0.3"/>
<path d="M711.0 553.0C711.7 552.1 712.7 549.0 715.0 547.5C717.3 546.0 722.4 543.9 725.0 543.8C727.6 543.6 728.6 545.3 730.8 546.6C732.9 547.9 735.8 550.6 737.9 551.7C740.0 552.8 742.6 552.8 743.5 553.0" fill="none" stroke="#ff0000" stroke-width="1.9" stroke-linejoin="round" stroke-dasharray="2.6 0.3"/>
<path d="M773.3 553.0C774.7 552.5 778.9 551.7 781.8 550.3C784.6 548.9 787.8 546.6 790.4 544.6C793.0 542.6 795.0 539.5 797.4 538.0C799.8 536.5 801.9 536.8 804.5 535.3C807.1 533.8 810.6 530.8 813.0 529.0C815.4 527.2 816.3 525.7 818.7 524.8C821.1 523.9 824.4 524.5 827.2 523.4C830.0 522.3 833.1 519.6 835.7 518.3C838.3 517.0 840.7 517.0 842.8 515.4C844.9 513.8 846.8 510.2 848.5 508.6C850.2 507.0 851.4 505.9 853.3 505.8C855.2 505.7 857.9 506.7 859.9 507.8C861.9 508.9 863.4 511.3 865.5 512.6C867.6 513.9 870.2 513.5 872.6 515.4C875.0 517.3 877.3 521.7 879.7 524.0C882.1 526.3 884.2 527.9 886.8 529.0C889.4 530.1 892.0 529.5 895.3 530.5C898.6 531.5 903.4 533.4 906.7 535.3C910.0 537.2 912.8 540.2 915.2 541.8C917.6 543.3 918.8 544.8 920.9 544.6C923.0 544.4 925.5 542.4 927.9 540.4C930.2 538.4 932.9 534.0 935.0 532.4C937.1 530.8 937.9 531.6 940.7 531.0C943.5 530.4 949.2 530.0 952.0 528.5C954.8 527.0 955.3 523.6 957.7 522.0C960.1 520.4 963.6 519.7 966.2 519.0C968.8 518.3 972.1 517.9 973.3 517.7" fill="none" stroke="#ff0000" stroke-width="1.9" stroke-linejoin="round" stroke-dasharray="2.6 0.3"/>
<path d="M74.6 498.4C75.6 500.0 78.5 504.7 80.6 508.0C82.7 511.3 85.0 514.9 87.0 518.4C89.0 521.9 90.8 525.3 92.3 528.8C93.8 532.3 95.0 535.2 96.2 539.2C97.4 543.2 99.0 550.5 99.6 552.7" fill="none" stroke="#008000" stroke-width="2.0" stroke-linejoin="round" stroke-dasharray="2.6 0.3"/>
<path d="M355.0 552.7C356.1 550.9 359.2 545.6 361.6 541.8C364.0 538.0 367.0 532.8 369.4 530.0C371.8 527.2 374.0 526.0 375.9 525.0C377.8 524.0 378.6 523.6 381.0 524.0C383.4 524.4 387.4 526.7 390.2 527.5C393.0 528.3 395.6 527.7 398.0 528.8C400.4 529.9 402.3 531.6 404.5 534.0C406.7 536.4 408.8 540.4 411.0 543.0C413.2 545.6 415.3 548.0 417.5 549.6C419.7 551.2 422.9 552.2 424.0 552.7" fill="none" stroke="#008000" stroke-width="2.0" stroke-linejoin="round" stroke-dasharray="2.6 0.3"/>
<path d="M491.6 552.7C493.3 552.0 498.5 549.7 502.0 548.3C505.5 546.9 509.2 545.6 512.5 544.4C515.8 543.2 519.0 541.6 521.6 541.3C524.2 540.9 525.2 541.3 528.0 542.3C530.8 543.3 534.8 545.8 538.5 547.5C542.2 549.2 548.1 551.8 550.0 552.7" fill="none" stroke="#008000" stroke-width="2.0" stroke-linejoin="round" stroke-dasharray="2.6 0.3"/>
<path d="M559.3 552.7C561.0 551.5 566.2 547.5 569.7 545.7C573.2 543.9 576.1 542.5 580.0 541.8C583.9 541.1 589.1 541.2 593.0 541.3C596.9 541.4 600.0 541.6 603.5 542.3C607.0 543.0 610.4 544.6 613.9 545.7C617.4 546.8 620.8 548.3 624.3 549.0C627.8 549.7 631.2 549.4 634.7 550.0C638.2 550.6 643.3 552.2 645.0 552.7" fill="none" stroke="#008000" stroke-width="2.0" stroke-linejoin="round" stroke-dasharray="2.6 0.3"/>
<path d="M722.3 553.0C723.7 552.4 727.3 549.9 730.8 549.5C734.3 549.1 740.0 550.3 743.5 550.9C747.0 551.5 750.6 552.6 752.0 553.0" fill="none" stroke="#008000" stroke-width="2.0" stroke-linejoin="round" stroke-dasharray="2.6 0.3"/>
<path d="M781.8 553.0C783.7 552.1 788.9 549.8 793.2 547.5C797.5 545.2 802.7 541.7 807.4 539.0C812.1 536.3 816.4 533.9 821.6 531.3C826.8 528.7 833.9 525.9 838.6 523.4C843.3 520.9 846.6 518.3 849.9 516.3C853.2 514.3 855.5 512.5 858.4 511.5C861.2 510.6 864.1 510.3 867.0 510.6C869.9 510.9 872.2 511.5 875.5 513.4C878.8 515.3 882.5 519.5 886.8 522.0C891.0 524.5 896.8 526.5 901.0 528.5C905.2 530.5 909.0 532.2 912.3 534.0C915.6 535.8 918.3 538.0 920.9 539.0C923.5 540.0 925.1 540.3 927.9 539.8C930.7 539.3 933.9 537.4 937.9 536.0C941.9 534.6 947.8 533.0 952.0 531.3C956.2 529.6 959.9 527.1 963.4 525.6C966.9 524.1 971.6 522.6 973.3 522.0" fill="none" stroke="#008000" stroke-width="2.0" stroke-linejoin="round" stroke-dasharray="2.6 0.3"/>
</g>
<text x="25" y="510" font-family="Liberation Serif, serif" font-size="11" fill="#008000" stroke="#008000" stroke-width="0.15" textLength="74">MACD 26; 12; 9</text>
<path d="M103 506 h6 l-3 3.2z" fill="#008000"/>
<text x="1196.4" y="16.9" font-family="Liberation Serif, serif" font-size="10" fill="#000" stroke="#000" stroke-width="0.15" textLength="22.6">4,000</text>
<text x="1196.4" y="56.8" font-family="Liberation Serif, serif" font-size="10" fill="#000" stroke="#000" stroke-width="0.15" textLength="22.6">3,000</text>
<text x="1196.4" y="113.0" font-family="Liberation Serif, serif" font-size="10" fill="#000" stroke="#000" stroke-width="0.15" textLength="22.6">2,000</text>
<text x="1196.5" y="346.8" font-family="Liberation Serif, serif" font-size="10" fill="#000" stroke="#000" stroke-width="0.15" textLength="50.3">200.000.000</text>
<text x="1196.5" y="368.9" font-family="Liberation Serif, serif" font-size="10" fill="#000" stroke="#000" stroke-width="0.15" textLength="50.3">100.000.000</text>
<text x="1196.2" y="419.6" font-family="Liberation Serif, serif" font-size="10" fill="#000" stroke="#000" stroke-width="0.15" textLength="22.6">50,00</text>
<text x="1196.4" y="532.6" font-family="Liberation Serif, serif" font-size="10" fill="#000" stroke="#000" stroke-width="0.15" textLength="22.6">0,000</text>
<path d="M1175.6 336.4 l7.6 7.4 M1183.2 336.4 l-7.6 7.4" stroke="#0000ff" stroke-width="1.6" fill="none"/>
<path d="M1175.6 392.4 l7.6 7.4 M1183.2 392.4 l-7.6 7.4" stroke="#0000ff" stroke-width="1.6" fill="none"/>
<path d="M1175.6 447.4 l7.6 7.4 M1183.2 447.4 l-7.6 7.4" stroke="#0000ff" stroke-width="1.6" fill="none"/>
<path d="M1175.6 503.4 l7.6 7.4 M1183.2 503.4 l-7.6 7.4" stroke="#0000ff" stroke-width="1.6" fill="none"/>
<text x="33.0" y="563.2" font-family="Liberation Serif, serif" font-size="11" fill="#000" stroke="#000" stroke-width="0.15" text-anchor="middle">Jul</text>
<text x="58.8" y="563.2" font-family="Liberation Serif, serif" font-size="11" fill="#000" stroke="#000" stroke-width="0.15" text-anchor="middle">Set</text>
<text x="84.2" y="563.2" font-family="Liberation Serif, serif" font-size="11" fill="#000" stroke="#000" stroke-width="0.15" text-anchor="middle">Nov</text>
<text x="108.8" y="563.2" font-family="Liberation Serif, serif" font-size="11" fill="#000" stroke="#000" stroke-width="0.15" text-anchor="middle">Jan</text>
<text x="133.3" y="563.2" font-family="Liberation Serif, serif" font-size="11" fill="#000" stroke="#000" stroke-width="0.15" text-anchor="middle">Mar</text>
<text x="159.1" y="563.2" font-family="Liberation Serif, serif" font-size="11" fill="#000" stroke="#000" stroke-width="0.15" text-anchor="middle">Mai</text>
<text x="183.8" y="563.2" font-family="Liberation Serif, serif" font-size="11" fill="#000" stroke="#000" stroke-width="0.15" text-anchor="middle">Jul</text>
<text x="208.2" y="563.2" font-family="Liberation Serif, serif" font-size="11" fill="#000" stroke="#000" stroke-width="0.15" text-anchor="middle">Set</text>
<text x="233.5" y="563.2" font-family="Liberation Serif, serif" font-size="11" fill="#000" stroke="#000" stroke-width="0.15" text-anchor="middle">Nov</text>
<text x="257.8" y="563.2" font-family="Liberation Serif, serif" font-size="11" fill="#000" stroke="#000" stroke-width="0.15" text-anchor="middle">Jan</text>
<text x="282.4" y="563.2" font-family="Liberation Serif, serif" font-size="11" fill="#000" stroke="#000" stroke-width="0.15" text-anchor="middle">Mar</text>
<text x="307.9" y="563.2" font-family="Liberation Serif, serif" font-size="11" fill="#000" stroke="#000" stroke-width="0.15" text-anchor="middle">Mai</text>
<text x="333.9" y="563.2" font-family="Liberation Serif, serif" font-size="11" fill="#000" stroke="#000" stroke-width="0.15" text-anchor="middle">Jul</text>
<text x="358.6" y="563.2" font-family="Liberation Serif, serif" font-size="11" fill="#000" stroke="#000" stroke-width="0.15" text-anchor="middle">Set</text>
<text x="382.9" y="563.2" font-family="Liberation Serif, serif" font-size="11" fill="#000" stroke="#000" stroke-width="0.15" text-anchor="middle">Nov</text>
<text x="406.9" y="563.2" font-family="Liberation Serif, serif" font-size="11" fill="#000" stroke="#000" stroke-width="0.15" text-anchor="middle">Jan</text>
<text x="431.0" y="563.2" font-family="Liberation Serif, serif" font-size="11" fill="#000" stroke="#000" stroke-width="0.15" text-anchor="middle">Mar</text>
<text x="456.8" y="563.2" font-family="Liberation Serif, serif" font-size="11" fill="#000" stroke="#000" stroke-width="0.15" text-anchor="middle">Mai</text>
<text x="482.8" y="563.2" font-family="Liberation Serif, serif" font-size="11" fill="#000" stroke="#000" stroke-width="0.15" text-anchor="middle">Jul</text>
<text x="507.8" y="563.2" font-family="Liberation Serif, serif" font-size="11" fill="#000" stroke="#000" stroke-width="0.15" text-anchor="middle">Set</text>
<text x="532.2" y="563.2" font-family="Liberation Serif, serif" font-size="11" fill="#000" stroke="#000" stroke-width="0.15" text-anchor="middle">Nov</text>
<text x="557.5" y="563.2" font-family="Liberation Serif, serif" font-size="11" fill="#000" stroke="#000" stroke-width="0.15" text-anchor="middle">Jan</text>
<text x="581.5" y="563.2" font-family="Liberation Serif, serif" font-size="11" fill="#000" stroke="#000" stroke-width="0.15" text-anchor="middle">Mar</text>
<text x="606.1" y="563.2" font-family="Liberation Serif, serif" font-size="11" fill="#000" stroke="#000" stroke-width="0.15" text-anchor="middle">Mai</text>
<text x="632.5" y="563.2" font-family="Liberation Serif, serif" font-size="11" fill="#000" stroke="#000" stroke-width="0.15" text-anchor="middle">Jul</text>
<text x="658.2" y="563.2" font-family="Liberation Serif, serif" font-size="11" fill="#000" stroke="#000" stroke-width="0.15" text-anchor="middle">Set</text>
<text x="682.3" y="563.2" font-family="Liberation Serif, serif" font-size="11" fill="#000" stroke="#000" stroke-width="0.15" text-anchor="middle">Nov</text>
<text x="706.1" y="563.2" font-family="Liberation Serif, serif" font-size="11" fill="#000" stroke="#000" stroke-width="0.15" text-anchor="middle">Jan</text>
<text x="731.5" y="563.2" font-family="Liberation Serif, serif" font-size="11" fill="#000" stroke="#000" stroke-width="0.15" text-anchor="middle">Mar</text>
<text x="756.2" y="563.2" font-family="Liberation Serif, serif" font-size="11" fill="#000" stroke="#000" stroke-width="0.15" text-anchor="middle">Mai</text>
<text x="780.9" y="563.2" font-family="Liberation Serif, serif" font-size="11" fill="#000" stroke="#000" stroke-width="0.15" text-anchor="middle">Jul</text>
<text x="807.0" y="563.2" font-family="Liberation Serif, serif" font-size="11" fill="#000" stroke="#000" stroke-width="0.15" text-anchor="middle">Set</text>
<text x="832.4" y="563.2" font-family="Liberation Serif, serif" font-size="11" fill="#000" stroke="#000" stroke-width="0.15" text-anchor="middle">Nov</text>
<text x="856.4" y="563.2" font-family="Liberation Serif, serif" font-size="11" fill="#000" stroke="#000" stroke-width="0.15" text-anchor="middle">Jan</text>
<text x="881.1" y="563.2" font-family="Liberation Serif, serif" font-size="11" fill="#000" stroke="#000" stroke-width="0.15" text-anchor="middle">Mar</text>
<text x="905.4" y="563.2" font-family="Liberation Serif, serif" font-size="11" fill="#000" stroke="#000" stroke-width="0.15" text-anchor="middle">Mai</text>
<text x="929.8" y="563.2" font-family="Liberation Serif, serif" font-size="11" fill="#000" stroke="#000" stroke-width="0.15" text-anchor="middle">Jul</text>
<text x="955.6" y="563.2" font-family="Liberation Serif, serif" font-size="11" fill="#000" stroke="#000" stroke-width="0.15" text-anchor="middle">Set</text>
<text x="980.9" y="563.2" font-family="Liberation Serif, serif" font-size="11" fill="#000" stroke="#000" stroke-width="0.15" text-anchor="middle">Nov</text>
<text x="45" y="578.6" font-family="Liberation Serif, serif" font-size="11" fill="#000" stroke="#000" stroke-width="0.15" text-anchor="middle" textLength="20">2007</text>
<text x="170" y="578.6" font-family="Liberation Serif, serif" font-size="11" fill="#000" stroke="#000" stroke-width="0.15" text-anchor="middle" textLength="20">2008</text>
<text x="318.6" y="578.6" font-family="Liberation Serif, serif" font-size="11" fill="#000" stroke="#000" stroke-width="0.15" text-anchor="middle" textLength="20">2009</text>
<text x="468" y="578.6" font-family="Liberation Serif, serif" font-size="11" fill="#000" stroke="#000" stroke-width="0.15" text-anchor="middle" textLength="20">2010</text>
<text x="617" y="578.6" font-family="Liberation Serif, serif" font-size="11" fill="#000" stroke="#000" stroke-width="0.15" text-anchor="middle" textLength="20">2011</text>
<text x="767" y="578.6" font-family="Liberation Serif, serif" font-size="11" fill="#000" stroke="#000" stroke-width="0.15" text-anchor="middle" textLength="20">2012</text>
<text x="1015" y="578.6" font-family="Liberation Serif, serif" font-size="11" fill="#000" stroke="#000" stroke-width="0.15" text-anchor="middle" textLength="20">2013</text>
<g shape-rendering="crispEdges"><rect x="1187" y="0" width="1" height="583" fill="#000"/><rect x="1188" y="302" width="2" height="1" fill="#000"/><rect x="1188" y="277" width="2" height="1" fill="#000"/><rect x="1188" y="255" width="2" height="1" fill="#000"/><rect x="1188" y="237" width="2" height="1" fill="#000"/><rect x="1188" y="221" width="2" height="1" fill="#000"/><rect x="1188" y="206" width="2" height="1" fill="#000"/><rect x="1188" y="193" width="2" height="1" fill="#000"/><rect x="1188" y="181" width="2" height="1" fill="#000"/><rect x="1188" y="170" width="2" height="1" fill="#000"/><rect x="1188" y="159" width="2" height="1" fill="#000"/><rect x="1188" y="150" width="2" height="1" fill="#000"/><rect x="1188" y="141" width="2" height="1" fill="#000"/><rect x="1188" y="132" width="2" height="1" fill="#000"/><rect x="1188" y="124" width="2" height="1" fill="#000"/><rect x="1188" y="117" width="2" height="1" fill="#000"/><rect x="1188" y="110" width="5" height="1" fill="#000"/><rect x="1188" y="103" width="2" height="1" fill="#000"/><rect x="1188" y="97" width="2" height="1" fill="#000"/><rect x="1188" y="90" width="2" height="1" fill="#000"/><rect x="1188" y="85" width="2" height="1" fill="#000"/><rect x="1188" y="79" width="2" height="1" fill="#000"/><rect x="1188" y="73" width="2" height="1" fill="#000"/><rect x="1188" y="68" width="2" height="1" fill="#000"/><rect x="1188" y="63" width="2" height="1" fill="#000"/><rect x="1188" y="58" width="2" height="1" fill="#000"/><rect x="1188" y="54" width="5" height="1" fill="#000"/><rect x="1188" y="49" width="2" height="1" fill="#000"/><rect x="1188" y="45" width="2" height="1" fill="#000"/><rect x="1188" y="40" width="2" height="1" fill="#000"/><rect x="1188" y="36" width="2" height="1" fill="#000"/><rect x="1188" y="32" width="2" height="1" fill="#000"/><rect x="1188" y="28" width="2" height="1" fill="#000"/><rect x="1188" y="25" width="2" height="1" fill="#000"/><rect x="1188" y="21" width="2" height="1" fill="#000"/><rect x="1188" y="17" width="2" height="1" fill="#000"/><rect x="1188" y="14" width="5" height="1" fill="#000"/><rect x="1188" y="10" width="2" height="1" fill="#000"/><rect x="1188" y="7" width="2" height="1" fill="#000"/><rect x="1188" y="4" width="2" height="1" fill="#000"/><rect x="1188" y="0" width="2" height="1" fill="#000"/><rect x="1188" y="384" width="2" height="1" fill="#000"/><rect x="1188" y="382" width="2" height="1" fill="#000"/><rect x="1188" y="380" width="2" height="1" fill="#000"/><rect x="1188" y="378" width="2" height="1" fill="#000"/><rect x="1188" y="376" width="2" height="1" fill="#000"/><rect x="1188" y="374" width="2" height="1" fill="#000"/><rect x="1188" y="372" width="2" height="1" fill="#000"/><rect x="1188" y="370" width="2" height="1" fill="#000"/><rect x="1188" y="367" width="2" height="1" fill="#000"/><rect x="1188" y="365" width="5" height="1" fill="#000"/><rect x="1188" y="363" width="2" height="1" fill="#000"/><rect x="1188" y="361" width="2" height="1" fill="#000"/><rect x="1188" y="359" width="2" height="1" fill="#000"/><rect x="1188" y="357" width="2" height="1" fill="#000"/><rect x="1188" y="355" width="2" height="1" fill="#000"/><rect x="1188" y="353" width="2" height="1" fill="#000"/><rect x="1188" y="351" width="2" height="1" fill="#000"/><rect x="1188" y="348" width="2" height="1" fill="#000"/><rect x="1188" y="346" width="2" height="1" fill="#000"/><rect x="1188" y="344" width="5" height="1" fill="#000"/><rect x="1188" y="342" width="2" height="1" fill="#000"/><rect x="1188" y="340" width="2" height="1" fill="#000"/><rect x="1188" y="338" width="2" height="1" fill="#000"/><rect x="1188" y="336" width="2" height="1" fill="#000"/><rect x="1188" y="334" width="2" height="1" fill="#000"/><rect x="1188" y="388" width="2" height="1" fill="#000"/><rect x="1188" y="391" width="2" height="1" fill="#000"/><rect x="1188" y="414" width="2" height="1" fill="#000"/><rect x="1188" y="417" width="5" height="1" fill="#000"/><rect x="1188" y="421" width="2" height="1" fill="#000"/><rect x="1188" y="443" width="5" height="1" fill="#000"/><rect x="1188" y="466" width="2" height="1" fill="#000"/><rect x="1188" y="470" width="2" height="1" fill="#000"/><rect x="1188" y="475" width="2" height="1" fill="#000"/><rect x="1188" y="497" width="5" height="1" fill="#000"/><rect x="1188" y="502" width="2" height="1" fill="#000"/><rect x="1188" y="507" width="2" height="1" fill="#000"/><rect x="1188" y="511" width="2" height="1" fill="#000"/><rect x="1188" y="516" width="2" height="1" fill="#000"/><rect x="1188" y="520" width="2" height="1" fill="#000"/><rect x="1188" y="525" width="2" height="1" fill="#000"/><rect x="1188" y="530" width="5" height="1" fill="#000"/><rect x="1188" y="534" width="2" height="1" fill="#000"/><rect x="1188" y="539" width="2" height="1" fill="#000"/><rect x="1188" y="543" width="2" height="1" fill="#000"/><rect x="1188" y="548" width="2" height="1" fill="#000"/><rect x="1159" y="3" width="11" height="2" fill="#0000ff"/><rect x="1159" y="11" width="11" height="1" fill="#0000ff"/><rect x="1159" y="3" width="1" height="9" fill="#0000ff"/><rect x="1169" y="3" width="1" height="9" fill="#0000ff"/><rect x="1159" y="335" width="11" height="2" fill="#0000ff"/><rect x="1159" y="343" width="11" height="1" fill="#0000ff"/><rect x="1159" y="335" width="1" height="9" fill="#0000ff"/><rect x="1169" y="335" width="1" height="9" fill="#0000ff"/><rect x="1159" y="391" width="11" height="2" fill="#0000ff"/><rect x="1159" y="399" width="11" height="1" fill="#0000ff"/><rect x="1159" y="391" width="1" height="9" fill="#0000ff"/><rect x="1169" y="391" width="1" height="9" fill="#0000ff"/><rect x="1159" y="446" width="11" height="2" fill="#0000ff"/><rect x="1159" y="454" width="11" height="1" fill="#0000ff"/><rect x="1159" y="446" width="1" height="9" fill="#0000ff"/><rect x="1169" y="446" width="1" height="9" fill="#0000ff"/><rect x="1159" y="502" width="11" height="2" fill="#0000ff"/><rect x="1159" y="510" width="11" height="1" fill="#0000ff"/><rect x="1159" y="502" width="1" height="9" fill="#0000ff"/><rect x="1169" y="502" width="1" height="9" fill="#0000ff"/><rect x="0" y="553" width="1269" height="1" fill="#000"/><rect x="0" y="568" width="1188" height="1" fill="#000"/><rect x="0" y="582" width="1269" height="1" fill="#000"/><rect x="19" y="553" width="1" height="16" fill="#000"/><rect x="45" y="553" width="1" height="16" fill="#000"/><rect x="71" y="553" width="1" height="16" fill="#000"/><rect x="96" y="553" width="1" height="30" fill="#000"/><rect x="120" y="553" width="1" height="16" fill="#000"/><rect x="145" y="553" width="1" height="16" fill="#000"/><rect x="171" y="553" width="1" height="16" fill="#000"/><rect x="195" y="553" width="1" height="16" fill="#000"/><rect x="220" y="553" width="1" height="16" fill="#000"/><rect x="245" y="553" width="1" height="30" fill="#000"/><rect x="269" y="553" width="1" height="16" fill="#000"/><rect x="294" y="553" width="1" height="16" fill="#000"/><rect x="320" y="553" width="1" height="16" fill="#000"/><rect x="346" y="553" width="1" height="16" fill="#000"/><rect x="369" y="553" width="1" height="16" fill="#000"/><rect x="395" y="553" width="1" height="30" fill="#000"/><rect x="417" y="553" width="1" height="16" fill="#000"/><rect x="443" y="553" width="1" height="16" fill="#000"/><rect x="469" y="553" width="1" height="16" fill="#000"/><rect x="495" y="553" width="1" height="16" fill="#000"/><rect x="519" y="553" width="1" height="16" fill="#000"/><rect x="544" y="553" width="1" height="30" fill="#000"/><rect x="569" y="553" width="1" height="16" fill="#000"/><rect x="592" y="553" width="1" height="16" fill="#000"/><rect x="619" y="553" width="1" height="16" fill="#000"/><rect x="645" y="553" width="1" height="16" fill="#000"/><rect x="670" y="553" width="1" height="16" fill="#000"/><rect x="693" y="553" width="1" height="30" fill="#000"/><rect x="718" y="553" width="1" height="16" fill="#000"/><rect x="744" y="553" width="1" height="16" fill="#000"/><rect x="767" y="553" width="1" height="16" fill="#000"/><rect x="793" y="553" width="1" height="16" fill="#000"/><rect x="819" y="553" width="1" height="16" fill="#000"/><rect x="844" y="553" width="1" height="30" fill="#000"/><rect x="867" y="553" width="1" height="16" fill="#000"/><rect x="893" y="553" width="1" height="16" fill="#000"/><rect x="916" y="553" width="1" height="16" fill="#000"/><rect x="942" y="553" width="1" height="16" fill="#000"/><rect x="967" y="553" width="1" height="16" fill="#000"/><rect x="993" y="553" width="1" height="16" fill="#000"/><rect x="1019" y="553" width="1" height="16" fill="#000"/><rect x="1045" y="553" width="1" height="16" fill="#000"/><rect x="1071" y="553" width="1" height="16" fill="#000"/><rect x="1097" y="553" width="1" height="16" fill="#000"/><rect x="1122" y="553" width="1" height="16" fill="#000"/><rect x="1148" y="553" width="1" height="16" fill="#000"/><rect x="1174" y="553" width="1" height="16" fill="#000"/></g>
<rect x="1187.5" y="197.5" width="33" height="17" fill="#f5f5dc" stroke="#0000ff" stroke-width="1" shape-rendering="crispEdges"/>
<text x="1191.2" y="208.7" font-family="Liberation Serif, serif" font-size="10" fill="#0000ff" stroke="#0000ff" stroke-width="0.15" textLength="22.6">1,006</text>
<rect x="1187.5" y="214.5" width="33" height="18" fill="#f5f5dc" stroke="#ff0000" stroke-width="1" shape-rendering="crispEdges"/>
<text x="1191.2" y="226.2" font-family="Liberation Serif, serif" font-size="10" fill="#ff0000" stroke="#ff0000" stroke-width="0.15" textLength="22.6">0,887</text>
<rect x="1187.5" y="393.5" width="33" height="18" fill="#f5f5dc" stroke="#ff0000" stroke-width="1" shape-rendering="crispEdges"/>
<text x="1191.2" y="405.2" font-family="Liberation Serif, serif" font-size="10" fill="#ff0000" stroke="#ff0000" stroke-width="0.15" textLength="22.6">70,00</text>
<rect x="1187.5" y="423.5" width="33" height="18" fill="#f5f5dc" stroke="#ff0000" stroke-width="1" shape-rendering="crispEdges"/>
<text x="1191.2" y="435.2" font-family="Liberation Serif, serif" font-size="10" fill="#ff0000" stroke="#ff0000" stroke-width="0.15" textLength="22.6">30,00</text>
<rect x="1187.5" y="446.5" width="33" height="17" fill="#f5f5dc" stroke="#ff0000" stroke-width="1" shape-rendering="crispEdges"/>
<text x="1191.2" y="457.7" font-family="Liberation Serif, serif" font-size="10" fill="#ff0000" stroke="#ff0000" stroke-width="0.15" textLength="22.6">80,00</text>
<rect x="1187.5" y="477.5" width="33" height="18" fill="#f5f5dc" stroke="#ff0000" stroke-width="1" shape-rendering="crispEdges"/>
<text x="1191.2" y="489.2" font-family="Liberation Serif, serif" font-size="10" fill="#ff0000" stroke="#ff0000" stroke-width="0.15" textLength="22.6">20,00</text>
<rect x="-5.5" y="553.5" width="22" height="15" fill="#f5f5dc" stroke="#0000ff" stroke-width="1" shape-rendering="crispEdges"/>
<text x="-1.5" y="563.2" font-family="Liberation Serif, serif" font-size="11" fill="#000" stroke="#000" stroke-width="0.15">07</text>
</svg>
</body></html>
